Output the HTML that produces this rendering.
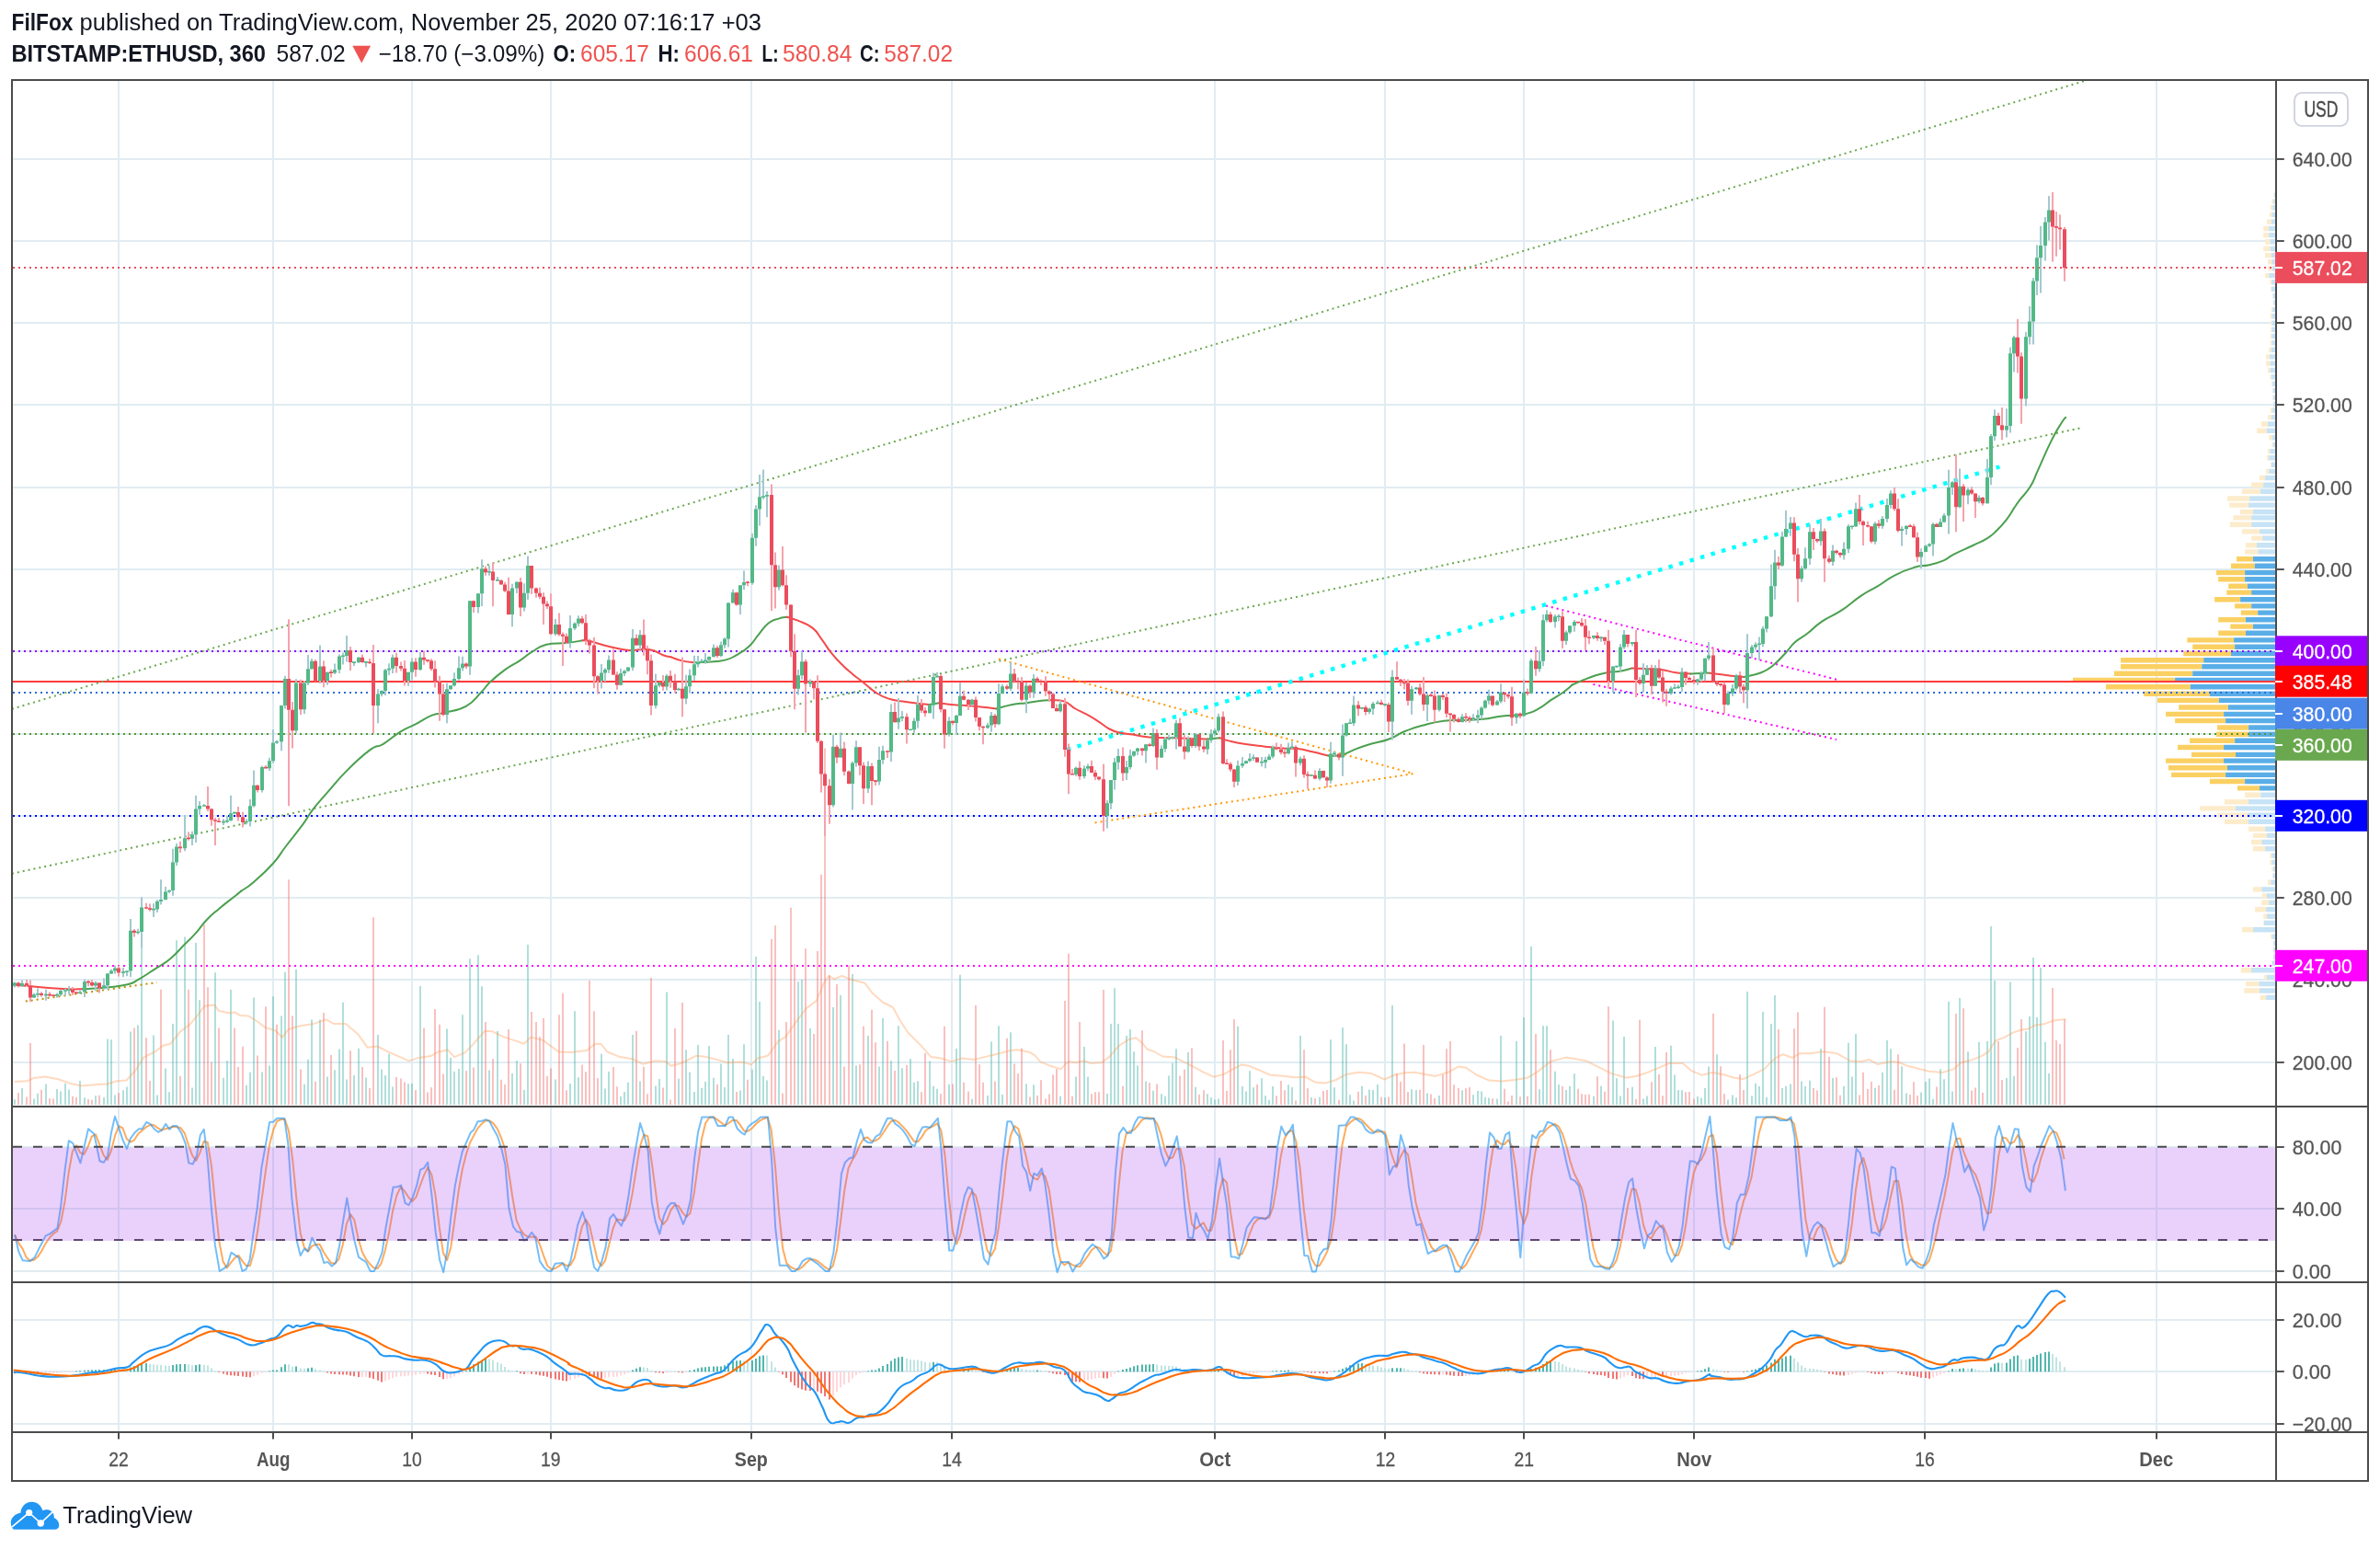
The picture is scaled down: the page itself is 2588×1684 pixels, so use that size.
<!DOCTYPE html><html><head><meta charset="utf-8"><style>html,body{margin:0;padding:0;background:#fff}svg{display:block}</style></head><body><svg width="2588" height="1684" viewBox="0 0 2588 1684" font-family="Liberation Sans, sans-serif">
<rect width="2588" height="1684" fill="#fff"/>
<g opacity="0.999">
<defs><clipPath id="cm"><rect x="13.0" y="87.0" width="2462.0" height="1116.0"/></clipPath><clipPath id="cs"><rect x="13.0" y="1203.0" width="2462.0" height="191.0"/></clipPath><clipPath id="cd"><rect x="13.0" y="1394.0" width="2462.0" height="163.0"/></clipPath></defs>
<path d="M129 87.0V1557.0M297 87.0V1557.0M448 87.0V1557.0M599 87.0V1557.0M817 87.0V1557.0M1035 87.0V1557.0M1321 87.0V1557.0M1506 87.0V1557.0M1657 87.0V1557.0M1842 87.0V1557.0M2093 87.0V1557.0M2345 87.0V1557.0M13.0 1155H2475.0M13.0 1065H2475.0M13.0 976H2475.0M13.0 887H2475.0M13.0 798H2475.0M13.0 708H2475.0M13.0 619H2475.0M13.0 530H2475.0M13.0 440H2475.0M13.0 351H2475.0M13.0 262H2475.0M13.0 173H2475.0M13.0 1247H2475.0M13.0 1314H2475.0M13.0 1382H2475.0M13.0 1435H2475.0M13.0 1491H2475.0M13.0 1548H2475.0" stroke="#e1ecf2" stroke-width="2" fill="none"/>
<g clip-path="url(#cm)">
<path d="M15 1195.2h2V1201h-2zM23 1183.1h2V1201h-2zM36 1194.6h2V1201h-2zM40 1188.8h2V1201h-2zM49 1178.6h2V1201h-2zM61 1183.9h2V1201h-2zM65 1186.5h2V1201h-2zM70 1177.8h2V1201h-2zM74 1184.4h2V1201h-2zM86 1174.9h2V1201h-2zM91 1193.3h2V1201h-2zM103 1191.2h2V1201h-2zM112 1193h2V1201h-2zM116 1129.5h2V1201h-2zM120 1130.3h2V1201h-2zM124 1190.6h2V1201h-2zM133 1185.2h2V1201h-2zM137 1181.4h2V1201h-2zM141 1121.6h2V1201h-2zM149 1114.5h2V1201h-2zM153 1017h2V1201h-2zM166 1125.6h2V1201h-2zM170 1190.6h2V1201h-2zM179 1161.6h2V1201h-2zM183 1187.2h2V1201h-2zM187 1112.9h2V1201h-2zM191 1022.3h2V1201h-2zM200 1018.4h2V1201h-2zM208 1182.5h2V1201h-2zM212 1025h2V1201h-2zM216 1087.2h2V1201h-2zM233 1057.3h2V1201h-2zM242 1171.7h2V1201h-2zM246 1153.3h2V1201h-2zM250 1075.9h2V1201h-2zM267 1179.7h2V1201h-2zM271 1165.7h2V1201h-2zM275 1084.5h2V1201h-2zM284 1165.5h2V1201h-2zM292 1158.5h2V1201h-2zM296 1083.2h2V1201h-2zM305 1104.4h2V1201h-2zM309 1056.7h2V1201h-2zM321 1054.1h2V1201h-2zM330 1178.7h2V1201h-2zM334 1151.7h2V1201h-2zM338 1108.4h2V1201h-2zM347 1108.4h2V1201h-2zM355 1170.5h2V1201h-2zM363 1163.3h2V1201h-2zM368 1140.4h2V1201h-2zM372 1089.8h2V1201h-2zM376 1173.5h2V1201h-2zM384 1168.9h2V1201h-2zM389 1139.8h2V1201h-2zM397 1171.4h2V1201h-2zM410 1125h2V1201h-2zM414 1162.5h2V1201h-2zM418 1169h2V1201h-2zM422 1145.5h2V1201h-2zM426 1181.4h2V1201h-2zM443 1178.3h2V1201h-2zM447 1178.1h2V1201h-2zM456 1072.1h2V1201h-2zM485 1118.6h2V1201h-2zM489 1150.1h2V1201h-2zM493 1164.7h2V1201h-2zM498 1162.1h2V1201h-2zM502 1103.3h2V1201h-2zM510 1042.3h2V1201h-2zM519 1038.2h2V1201h-2zM523 1072.3h2V1201h-2zM531 1163.6h2V1201h-2zM540 1121h2V1201h-2zM556 1167h2V1201h-2zM561 1153h2V1201h-2zM569 1184.9h2V1201h-2zM573 1027.1h2V1201h-2zM603 1173.5h2V1201h-2zM619 1178h2V1201h-2zM624 1099.2h2V1201h-2zM628 1171.2h2V1201h-2zM653 1145.8h2V1201h-2zM657 1183.4h2V1201h-2zM661 1165h2V1201h-2zM674 1192h2V1201h-2zM678 1187.1h2V1201h-2zM682 1176.7h2V1201h-2zM687 1125h2V1201h-2zM695 1175.5h2V1201h-2zM712 1180.6h2V1201h-2zM716 1172.9h2V1201h-2zM724 1078.4h2V1201h-2zM737 1172.7h2V1201h-2zM745 1141.3h2V1201h-2zM749 1165.8h2V1201h-2zM754 1187h2V1201h-2zM758 1136h2V1201h-2zM762 1182.7h2V1201h-2zM766 1176.1h2V1201h-2zM770 1137.1h2V1201h-2zM775 1171.8h2V1201h-2zM783 1156.5h2V1201h-2zM787 1181.9h2V1201h-2zM791 1125h2V1201h-2zM796 1151.1h2V1201h-2zM804 1185.4h2V1201h-2zM808 1135.2h2V1201h-2zM817 1162.4h2V1201h-2zM821 1040.1h2V1201h-2zM825 1088.9h2V1201h-2zM829 1170.1h2V1201h-2zM833 1174.6h2V1201h-2zM846 1120h2V1201h-2zM867 1067.3h2V1201h-2zM871 1065.1h2V1201h-2zM880 1118h2V1201h-2zM905 1095h2V1201h-2zM913 1082h2V1201h-2zM926 1059h2V1201h-2zM930 1158.6h2V1201h-2zM943 1126.1h2V1201h-2zM955 1159.5h2V1201h-2zM959 1106.9h2V1201h-2zM968 1153.3h2V1201h-2zM976 1115.2h2V1201h-2zM980 1161.3h2V1201h-2zM989 1151.1h2V1201h-2zM993 1176.8h2V1201h-2zM997 1175.3h2V1201h-2zM1010 1153.4h2V1201h-2zM1014 1180.8h2V1201h-2zM1018 1183.8h2V1201h-2zM1031 1178.7h2V1201h-2zM1039 1140.1h2V1201h-2zM1043 1059.8h2V1201h-2zM1056 1194.8h2V1201h-2zM1073 1190.9h2V1201h-2zM1077 1132.4h2V1201h-2zM1085 1115.2h2V1201h-2zM1089 1190.1h2V1201h-2zM1098 1122.2h2V1201h-2zM1115 1178.3h2V1201h-2zM1123 1179.2h2V1201h-2zM1152 1191.8h2V1201h-2zM1169 1170.6h2V1201h-2zM1178 1138h2V1201h-2zM1182 1170.7h2V1201h-2zM1203 1189.1h2V1201h-2zM1207 1113h2V1201h-2zM1211 1074.2h2V1201h-2zM1215 1113h2V1201h-2zM1224 1126.1h2V1201h-2zM1228 1119.1h2V1201h-2zM1232 1143.2h2V1201h-2zM1236 1158.2h2V1201h-2zM1245 1175.4h2V1201h-2zM1253 1185.8h2V1201h-2zM1262 1189.2h2V1201h-2zM1266 1191.8h2V1201h-2zM1270 1169.5h2V1201h-2zM1274 1155.7h2V1201h-2zM1278 1140.2h2V1201h-2zM1291 1144.1h2V1201h-2zM1299 1181.7h2V1201h-2zM1312 1189.2h2V1201h-2zM1316 1193.3h2V1201h-2zM1320 1195.4h2V1201h-2zM1324 1194.5h2V1201h-2zM1345 1115.8h2V1201h-2zM1350 1180.9h2V1201h-2zM1354 1186.6h2V1201h-2zM1358 1164.3h2V1201h-2zM1362 1182.2h2V1201h-2zM1371 1172.2h2V1201h-2zM1375 1191.2h2V1201h-2zM1379 1195.8h2V1201h-2zM1383 1180.9h2V1201h-2zM1400 1179.3h2V1201h-2zM1404 1182.1h2V1201h-2zM1413 1126.1h2V1201h-2zM1425 1192.9h2V1201h-2zM1434 1192.8h2V1201h-2zM1446 1130.2h2V1201h-2zM1450 1182.2h2V1201h-2zM1459 1117.2h2V1201h-2zM1463 1135.2h2V1201h-2zM1467 1190.3h2V1201h-2zM1471 1196.5h2V1201h-2zM1480 1180.8h2V1201h-2zM1488 1184.5h2V1201h-2zM1492 1185.1h2V1201h-2zM1497 1179h2V1201h-2zM1505 1193.2h2V1201h-2zM1513 1093.1h2V1201h-2zM1534 1184.2h2V1201h-2zM1539 1185.1h2V1201h-2zM1551 1188.4h2V1201h-2zM1564 1191h2V1201h-2zM1589 1185.3h2V1201h-2zM1601 1190.3h2V1201h-2zM1606 1186h2V1201h-2zM1610 1186.5h2V1201h-2zM1614 1192.7h2V1201h-2zM1618 1193.4h2V1201h-2zM1627 1194.5h2V1201h-2zM1631 1126.1h2V1201h-2zM1648 1131.9h2V1201h-2zM1656 1106.1h2V1201h-2zM1664 1029h2V1201h-2zM1673 1184.2h2V1201h-2zM1677 1115.2h2V1201h-2zM1681 1115.2h2V1201h-2zM1690 1164.8h2V1201h-2zM1694 1179.1h2V1201h-2zM1702 1184.9h2V1201h-2zM1706 1180.7h2V1201h-2zM1711 1167.3h2V1201h-2zM1732 1191.7h2V1201h-2zM1740 1180.8h2V1201h-2zM1753 1109.4h2V1201h-2zM1757 1172.3h2V1201h-2zM1761 1191.4h2V1201h-2zM1765 1126.9h2V1201h-2zM1774 1181.7h2V1201h-2zM1786 1194.4h2V1201h-2zM1790 1191.6h2V1201h-2zM1799 1137.9h2V1201h-2zM1816 1136.8h2V1201h-2zM1820 1168.4h2V1201h-2zM1824 1185.1h2V1201h-2zM1828 1185.2h2V1201h-2zM1845 1192.1h2V1201h-2zM1849 1193.5h2V1201h-2zM1853 1182.9h2V1201h-2zM1857 1159.5h2V1201h-2zM1866 1146.2h2V1201h-2zM1878 1195.4h2V1201h-2zM1883 1190.6h2V1201h-2zM1887 1193.2h2V1201h-2zM1899 1077.9h2V1201h-2zM1904 1191.5h2V1201h-2zM1908 1177.8h2V1201h-2zM1912 1180.9h2V1201h-2zM1916 1100h2V1201h-2zM1920 1193.1h2V1201h-2zM1925 1112.9h2V1201h-2zM1929 1082.1h2V1201h-2zM1937 1183.1h2V1201h-2zM1941 1180.7h2V1201h-2zM1946 1178.6h2V1201h-2zM1958 1175.6h2V1201h-2zM1962 1180.9h2V1201h-2zM1967 1174.8h2V1201h-2zM1979 1140.3h2V1201h-2zM1992 1172.1h2V1201h-2zM2004 1180.8h2V1201h-2zM2009 1133.8h2V1201h-2zM2013 1170.5h2V1201h-2zM2017 1124.1h2V1201h-2zM2038 1182.8h2V1201h-2zM2046 1165.9h2V1201h-2zM2051 1130.9h2V1201h-2zM2055 1140.3h2V1201h-2zM2067 1159.2h2V1201h-2zM2072 1188.6h2V1201h-2zM2088 1187.4h2V1201h-2zM2093 1175.9h2V1201h-2zM2097 1172.6h2V1201h-2zM2101 1194.7h2V1201h-2zM2109 1162.3h2V1201h-2zM2113 1173.2h2V1201h-2zM2118 1088.8h2V1201h-2zM2122 1186.5h2V1201h-2zM2130 1085h2V1201h-2zM2139 1143.2h2V1201h-2zM2151 1132.9h2V1201h-2zM2160 1132.1h2V1201h-2zM2164 1007.1h2V1201h-2zM2168 1065.9h2V1201h-2zM2181 1172.1h2V1201h-2zM2185 1067.6h2V1201h-2zM2189 1169.7h2V1201h-2zM2202 1121.2h2V1201h-2zM2206 1105h2V1201h-2zM2210 1040.9h2V1201h-2zM2214 1105.9h2V1201h-2zM2218 1052.1h2V1201h-2zM2223 1132.9h2V1201h-2zM2227 1166.9h2V1201h-2z" fill="#26a69a" fill-opacity="0.36"/>
<path d="M19 1187.9h2V1201h-2zM28 1192.5h2V1201h-2zM32 1134h2V1201h-2zM44 1184.7h2V1201h-2zM53 1194.1h2V1201h-2zM57 1194.6h2V1201h-2zM78 1191.8h2V1201h-2zM82 1192.9h2V1201h-2zM95 1194.9h2V1201h-2zM99 1195.8h2V1201h-2zM107 1190.8h2V1201h-2zM128 1188.3h2V1201h-2zM145 1117.6h2V1201h-2zM158 1128.2h2V1201h-2zM162 1174.9h2V1201h-2zM174 1075.8h2V1201h-2zM195 1169.7h2V1201h-2zM204 1075.8h2V1201h-2zM221 1005.1h2V1201h-2zM225 1073.2h2V1201h-2zM229 1154.7h2V1201h-2zM237 1117.6h2V1201h-2zM254 1117.6h2V1201h-2zM258 1160.1h2V1201h-2zM263 1137.8h2V1201h-2zM279 1147.4h2V1201h-2zM288 1094.3h2V1201h-2zM300 1113.7h2V1201h-2zM313 956.2h2V1201h-2zM317 1104.4h2V1201h-2zM326 1162.4h2V1201h-2zM342 1175.7h2V1201h-2zM351 1101.1h2V1201h-2zM359 1147.1h2V1201h-2zM380 1142.2h2V1201h-2zM393 1159.9h2V1201h-2zM401 1182.9h2V1201h-2zM405 997.2h2V1201h-2zM430 1170.9h2V1201h-2zM435 1172.6h2V1201h-2zM439 1176.5h2V1201h-2zM451 1185.1h2V1201h-2zM460 1117.6h2V1201h-2zM464 1187.5h2V1201h-2zM468 1182.3h2V1201h-2zM472 1097h2V1201h-2zM477 1113.7h2V1201h-2zM481 1167.4h2V1201h-2zM506 1164.3h2V1201h-2zM514 1160.5h2V1201h-2zM527 1111.1h2V1201h-2zM535 1151.2h2V1201h-2zM544 1173.8h2V1201h-2zM548 1178.9h2V1201h-2zM552 1119.1h2V1201h-2zM565 1156.2h2V1201h-2zM577 1100h2V1201h-2zM582 1110.9h2V1201h-2zM586 1127.2h2V1201h-2zM590 1106.9h2V1201h-2zM594 1169.9h2V1201h-2zM598 1161.5h2V1201h-2zM607 1103.3h2V1201h-2zM611 1079.8h2V1201h-2zM615 1185.3h2V1201h-2zM632 1157.5h2V1201h-2zM636 1165.2h2V1201h-2zM640 1065.9h2V1201h-2zM645 1099.2h2V1201h-2zM649 1171.9h2V1201h-2zM666 1160h2V1201h-2zM670 1181.3h2V1201h-2zM691 1120.8h2V1201h-2zM699 1159.8h2V1201h-2zM703 1189.2h2V1201h-2zM707 1063.1h2V1201h-2zM720 1182.4h2V1201h-2zM728 1195.5h2V1201h-2zM733 1118h2V1201h-2zM741 1090h2V1201h-2zM779 1178.8h2V1201h-2zM800 1187h2V1201h-2zM812 1173.7h2V1201h-2zM838 1021h2V1201h-2zM842 1006.3h2V1201h-2zM850 1188.6h2V1201h-2zM854 1111.1h2V1201h-2zM859 986.8h2V1201h-2zM863 1047.9h2V1201h-2zM875 1031.2h2V1201h-2zM884 1124.1h2V1201h-2zM888 1034h2V1201h-2zM892 950.8h2V1201h-2zM896 813.5h2V1201h-2zM901 1060.3h2V1201h-2zM909 1070h2V1201h-2zM917 1159.4h2V1201h-2zM922 1049.2h2V1201h-2zM934 1157.3h2V1201h-2zM938 1115.8h2V1201h-2zM947 1097.8h2V1201h-2zM951 1133.2h2V1201h-2zM964 1131.8h2V1201h-2zM972 1164h2V1201h-2zM985 1158h2V1201h-2zM1001 1187.3h2V1201h-2zM1005 1145.1h2V1201h-2zM1022 1189.3h2V1201h-2zM1026 1115.8h2V1201h-2zM1035 1178.6h2V1201h-2zM1047 1176.7h2V1201h-2zM1052 1186.6h2V1201h-2zM1060 1093.1h2V1201h-2zM1064 1157.3h2V1201h-2zM1068 1176.8h2V1201h-2zM1081 1175.4h2V1201h-2zM1094 1128.7h2V1201h-2zM1102 1156.6h2V1201h-2zM1106 1167.1h2V1201h-2zM1110 1139.4h2V1201h-2zM1119 1192.6h2V1201h-2zM1127 1191.1h2V1201h-2zM1131 1174.3h2V1201h-2zM1136 1194.5h2V1201h-2zM1140 1189.4h2V1201h-2zM1144 1168.5h2V1201h-2zM1148 1162.2h2V1201h-2zM1157 1088.1h2V1201h-2zM1161 1036.8h2V1201h-2zM1165 1191.8h2V1201h-2zM1173 1111.1h2V1201h-2zM1186 1189.3h2V1201h-2zM1190 1187.3h2V1201h-2zM1194 1187.2h2V1201h-2zM1199 1076.1h2V1201h-2zM1220 1180.8h2V1201h-2zM1241 1120.2h2V1201h-2zM1249 1177.2h2V1201h-2zM1257 1178.6h2V1201h-2zM1282 1169.5h2V1201h-2zM1287 1162.5h2V1201h-2zM1295 1139.4h2V1201h-2zM1303 1189.8h2V1201h-2zM1308 1185.3h2V1201h-2zM1329 1131.1h2V1201h-2zM1333 1186.1h2V1201h-2zM1337 1141.3h2V1201h-2zM1341 1108h2V1201h-2zM1366 1179h2V1201h-2zM1387 1191.3h2V1201h-2zM1392 1175.1h2V1201h-2zM1396 1185.2h2V1201h-2zM1408 1196.5h2V1201h-2zM1417 1141.3h2V1201h-2zM1421 1183.3h2V1201h-2zM1429 1193.9h2V1201h-2zM1438 1186.1h2V1201h-2zM1442 1185h2V1201h-2zM1455 1195.7h2V1201h-2zM1476 1186.7h2V1201h-2zM1484 1190.9h2V1201h-2zM1501 1192.7h2V1201h-2zM1509 1192.4h2V1201h-2zM1518 1167.2h2V1201h-2zM1522 1176.1h2V1201h-2zM1526 1134.4h2V1201h-2zM1530 1187h2V1201h-2zM1543 1184.8h2V1201h-2zM1547 1136h2V1201h-2zM1555 1189.5h2V1201h-2zM1559 1193.9h2V1201h-2zM1568 1168.3h2V1201h-2zM1572 1140.2h2V1201h-2zM1576 1131.9h2V1201h-2zM1580 1179.2h2V1201h-2zM1585 1182.8h2V1201h-2zM1593 1183.2h2V1201h-2zM1597 1181.9h2V1201h-2zM1622 1194.2h2V1201h-2zM1635 1183.7h2V1201h-2zM1639 1197.5h2V1201h-2zM1643 1191h2V1201h-2zM1652 1192.2h2V1201h-2zM1660 1191.8h2V1201h-2zM1669 1124.1h2V1201h-2zM1685 1141.3h2V1201h-2zM1698 1180.9h2V1201h-2zM1715 1183.7h2V1201h-2zM1719 1189.3h2V1201h-2zM1723 1190.1h2V1201h-2zM1727 1189.7h2V1201h-2zM1736 1170.2h2V1201h-2zM1744 1186.8h2V1201h-2zM1748 1094.2h2V1201h-2zM1769 1182.7h2V1201h-2zM1778 1194.9h2V1201h-2zM1782 1108.8h2V1201h-2zM1795 1176.3h2V1201h-2zM1803 1168.1h2V1201h-2zM1807 1191.3h2V1201h-2zM1811 1144.1h2V1201h-2zM1832 1187.3h2V1201h-2zM1836 1187.1h2V1201h-2zM1841 1194.8h2V1201h-2zM1862 1102.1h2V1201h-2zM1870 1159.3h2V1201h-2zM1874 1189.3h2V1201h-2zM1891 1168.1h2V1201h-2zM1895 1185h2V1201h-2zM1933 1119.1h2V1201h-2zM1950 1118.2h2V1201h-2zM1954 1100.6h2V1201h-2zM1971 1183.1h2V1201h-2zM1975 1185.5h2V1201h-2zM1983 1094.7h2V1201h-2zM1988 1149h2V1201h-2zM1996 1171.3h2V1201h-2zM2000 1190.7h2V1201h-2zM2021 1190.5h2V1201h-2zM2025 1165.9h2V1201h-2zM2030 1184h2V1201h-2zM2034 1176h2V1201h-2zM2042 1179.9h2V1201h-2zM2059 1184.7h2V1201h-2zM2063 1146.2h2V1201h-2zM2076 1189.9h2V1201h-2zM2080 1176.3h2V1201h-2zM2084 1191.1h2V1201h-2zM2105 1181.4h2V1201h-2zM2126 1102.1h2V1201h-2zM2134 1096.2h2V1201h-2zM2143 1185.6h2V1201h-2zM2147 1182.4h2V1201h-2zM2155 1188h2V1201h-2zM2172 1132.1h2V1201h-2zM2176 1173.9h2V1201h-2zM2193 1139.1h2V1201h-2zM2197 1107.9h2V1201h-2zM2231 1074.1h2V1201h-2zM2235 1130.9h2V1201h-2zM2239 1135h2V1201h-2zM2244 1107.9h2V1201h-2z" fill="#ef5350" fill-opacity="0.36"/>
<polyline points="15.9,1175.9 29.1,1175.3 37.1,1171.9 49,1170.6 63.5,1173.2 76.8,1178 88.7,1180.4 105.9,1179 116.5,1178.5 127.1,1175.3 137.6,1174.5 148.2,1162.6 156.2,1149.4 169.4,1142.8 177.3,1136.7 185.3,1134.8 195.9,1121.6 206.5,1113.7 214.4,1104.4 222.3,1093.8 232.9,1092.5 238.2,1099.1 248.8,1101.2 255.4,1100.4 260.7,1103.9 270,1104.4 280.6,1111 288.5,1117.1 299.1,1120.3 307,1127.7 313.7,1119 325.6,1115.5 341.5,1112.9 354.7,1108.4 362.6,1112.9 375.9,1113.1 389.1,1124.2 399.7,1138.8 410.3,1137.5 423.5,1144.1 444.7,1153.4 455.3,1149.9 468.5,1148.1 476.4,1143.6 480,1143 486.9,1141.3 493.9,1149.1 505,1144.9 513.3,1136.6 527.1,1120.8 535.5,1121.3 546.6,1126.9 563.2,1132.4 570.1,1134.7 577.1,1127.4 590.9,1131.1 599.2,1137.4 607.6,1143.5 621.4,1144.1 638.1,1142.1 646.4,1135.2 653.3,1134.7 660.3,1143.5 674.1,1149.1 688,1151.3 699.1,1156.8 712.9,1153.2 724,1154.1 729.6,1158.8 740.7,1156 757.3,1147.7 768.4,1149.1 779.5,1151.9 790.6,1155.2 807.2,1154.6 816.9,1157.4 823.9,1150.5 835,1147.7 846.1,1132.4 854.4,1126.9 868.2,1107.5 876.6,1096.4 887.7,1088.1 896,1068.7 901.5,1060.9 907.1,1064.5 915.4,1060.9 926.5,1065.3 940.3,1068.7 948.7,1079.8 959.8,1089.5 970.8,1095 979.2,1110.3 987.5,1122.7 1001.4,1136.6 1012.4,1149.1 1023.5,1150.5 1034.6,1154.1 1045.7,1150.5 1059.6,1151.9 1070.7,1149.1 1084.5,1145.8 1098.4,1142.1 1106.7,1141.3 1117.8,1143.5 1120,1144.1 1125.5,1147.7 1131.1,1154.1 1142.2,1158.8 1153.3,1162.4 1161.6,1154.1 1169.9,1155.2 1178.2,1153.2 1186.6,1156 1197.6,1155.2 1206,1149.1 1217.1,1136.6 1228.2,1129.7 1235.1,1128.3 1242,1133.8 1247.6,1140.8 1254.5,1143 1264.2,1148.5 1278.1,1149.6 1286.4,1154.1 1297.5,1159.6 1308.6,1165.7 1319.7,1170.7 1330.8,1167.9 1341.9,1161.6 1350.2,1157.4 1358.5,1158.8 1369.6,1163.5 1380.7,1168.5 1397.3,1169.9 1408.4,1171.3 1419.5,1170.7 1430.6,1176.8 1441.7,1177.4 1452.8,1174 1463.9,1167.9 1477.7,1165.7 1491.6,1167.1 1505.5,1173.5 1516.6,1168.5 1527.7,1166.3 1538.7,1165.7 1549.8,1167.9 1560.9,1169.9 1574.8,1165.7 1585.9,1159.6 1594.2,1160.7 1605.3,1168.5 1619.2,1174.6 1633,1175.4 1646.9,1174 1660.8,1171.8 1671.9,1165.2 1685.7,1154.1 1702.4,1149.6 1713.5,1151.3 1724.5,1153.2 1738.4,1160.2 1752.3,1167.1 1768.9,1171.8 1780,1169.7 1791.8,1165.9 1803.5,1160.9 1815.3,1155.9 1830,1155.9 1838.8,1163.8 1850.6,1168.8 1862.4,1165.9 1874.1,1168.2 1885.9,1171.8 1896.2,1172.9 1906.5,1168.2 1918.2,1162.4 1930,1150.6 1938.8,1146.2 1949.1,1150 1956.5,1145.3 1968.2,1145.3 1982.9,1143.2 1997.6,1145.3 2012.4,1153.5 2024.1,1154.1 2032.9,1152.1 2041.8,1157.1 2056.5,1154.1 2065.3,1155 2074.1,1158.8 2085.9,1161.8 2097.6,1164.7 2112.4,1165.9 2124.1,1162.4 2132.9,1155 2144.7,1152.1 2156.5,1147.1 2162.4,1143.2 2169.7,1131.5 2180,1127.6 2188.8,1122.6 2197.6,1119.7 2206.5,1118.2 2212.4,1114.7 2224.1,1112.9 2232.9,1109.4 2246.2,1107.9" fill="none" stroke="#ff9850" stroke-opacity="0.36" stroke-width="2" stroke-linejoin="round"/>
<path d="M2472.7 209.2H2473.1v5.4H2472.7zM2470.3 216.4H2471.9v5.4H2470.3zM2468.8 223.1H2471.2v5.4H2468.8zM2467.9 230.7H2470.7v5.4H2467.9zM2464.8 238.4H2469.8v5.4H2464.8zM2461.2 245.8H2467.2v5.4H2461.2zM2461.2 252.9H2467.2v5.4H2461.2zM2463.1 260.1H2468.4v5.4H2463.1zM2461.2 267.7H2468.4v5.4H2461.2zM2463.1 274.9H2469.8v5.4H2463.1zM2466 282.1H2470.3v5.4H2466zM2466.4 289.2H2470.7v5.4H2466.4zM2463.1 296.9H2467.2v5.4H2463.1zM2468.4 304H2470.3v5.4H2468.4zM2469.3 311.4H2469.8v5.4H2469.3zM2471.2 319.1H2471.7v5.4H2471.2zM2471.9 326.3H2472.2v5.4H2471.9zM2469.8 333.9H2471.2v5.4H2469.8zM2468.8 341.1H2470.7v5.4H2468.8zM2469.3 348.5H2470.7v5.4H2469.3zM2469.3 355.6H2470.3v5.4H2469.3zM2468.8 362.8H2470.3v5.4H2468.8zM2468.8 370H2470.7v5.4H2468.8zM2467.2 377.6H2469.8v5.4H2467.2zM2464.1 385.2H2467.9v5.4H2464.1zM2464.1 392.4H2468.4v5.4H2464.1zM2466 399.8H2468.8v5.4H2466zM2468.4 407H2469.8v5.4H2468.4zM2470.3 414.6H2471.2v5.4H2470.3zM2471.2 421.8H2471.7v5.4H2471.2zM2471.2 429.4H2471.9v5.4H2471.2zM2471.9 436.8H2472.2v5.4H2471.9zM2469.1 443.3H2471.2v5.4H2469.1zM2466 450.9H2469.8v5.4H2466zM2458.8 458.3H2466v5.4H2458.8zM2454 465.5H2465v5.4H2454zM2467.2 473.1H2470.7v5.4H2467.2zM2470.3 480.8H2471.7v5.4H2470.3zM2466 487.9H2468.4v5.4H2466zM2465 495.1H2467.2v5.4H2465zM2469.1 502.5H2469.8v5.4H2469.1zM2464.1 509.7H2467.2v5.4H2464.1zM2456.9 516.8H2463.1v5.4H2456.9zM2448.1 524.5H2461.2v5.4H2448.1zM2438 531.6H2457.9v5.4H2438zM2422 539.3H2446.1v5.4H2422zM2424.2 546.4H2445v5.4H2424.2zM2436.1 553.8H2450v5.4H2436.1zM2428.4 560.2H2448.2v5.4H2428.4zM2424.8 567.6H2448.2v5.4H2424.8zM2438 575.2H2457.1v5.4H2438zM2448.2 582.4H2460.2v5.4H2448.2zM2442 590H2454v5.4H2442zM2441.1 597.2H2455.4v5.4H2441.1zM2441.1 861.6H2458.3v5.4H2441.1zM2418.9 869.1H2445.1v5.4H2418.9zM2392.1 876.2H2431v5.4H2392.1zM2411 883.4H2443.9v5.4H2411zM2418.9 890.6H2445.1v5.4H2418.9zM2445 898.5H2463.1v5.4H2445zM2450 905.7H2465v5.4H2450zM2448.1 912.8H2459.3v5.4H2448.1zM2450 920H2463.1v5.4H2450zM2468.4 927.6H2470.3v5.4H2468.4zM2468.4 934.8H2470.3v5.4H2468.4zM2470.3 942H2471.9v5.4H2470.3zM2471.2 949.4H2471.5v5.4H2471.2zM2466 956.5H2469.3v5.4H2466zM2450 964.2H2459.3v5.4H2450zM2460 971.3H2465v5.4H2460zM2459.3 978.5H2467.2v5.4H2459.3zM2452.1 986.1H2464.1v5.4H2452.1zM2461.2 993.5H2465v5.4H2461.2zM2461.2 1000.7H2461.9v5.4H2461.2zM2438 1008.1H2450v5.4H2438zM2469.1 1015.5H2470.7v5.4H2469.1zM2471.9 1022.7H2472.2v5.4H2471.9zM2471.9 1029.8H2472.2v5.4H2471.9zM2471.9 1037.5H2472.2v5.4H2471.9zM2470.3 1044.6H2470.7v5.4H2470.3zM2436.8 1052H2448.1v5.4H2436.8zM2461.9 1059.7H2465v5.4H2461.9zM2442.1 1066.9H2456.4v5.4H2442.1zM2440.2 1074.3H2457.1v5.4H2440.2zM2457.9 1081.7H2464.1v5.4H2457.9z" fill="#fdeccb"/><path d="M2473.1 209.2H2474.0v5.4H2473.1zM2471.9 216.4H2474.0v5.4H2471.9zM2471.2 223.1H2474.0v5.4H2471.2zM2470.7 230.7H2474.0v5.4H2470.7zM2469.8 238.4H2474.0v5.4H2469.8zM2467.2 245.8H2474.0v5.4H2467.2zM2467.2 252.9H2474.0v5.4H2467.2zM2468.4 260.1H2474.0v5.4H2468.4zM2468.4 267.7H2474.0v5.4H2468.4zM2469.8 274.9H2474.0v5.4H2469.8zM2470.3 282.1H2474.0v5.4H2470.3zM2470.7 289.2H2474.0v5.4H2470.7zM2467.2 296.9H2474.0v5.4H2467.2zM2470.3 304H2474.0v5.4H2470.3zM2469.8 311.4H2474.0v5.4H2469.8zM2471.7 319.1H2474.0v5.4H2471.7zM2472.2 326.3H2474.0v5.4H2472.2zM2471.2 333.9H2474.0v5.4H2471.2zM2470.7 341.1H2474.0v5.4H2470.7zM2470.7 348.5H2474.0v5.4H2470.7zM2470.3 355.6H2474.0v5.4H2470.3zM2470.3 362.8H2474.0v5.4H2470.3zM2470.7 370H2474.0v5.4H2470.7zM2469.8 377.6H2474.0v5.4H2469.8zM2467.9 385.2H2474.0v5.4H2467.9zM2468.4 392.4H2474.0v5.4H2468.4zM2468.8 399.8H2474.0v5.4H2468.8zM2469.8 407H2474.0v5.4H2469.8zM2471.2 414.6H2474.0v5.4H2471.2zM2471.7 421.8H2474.0v5.4H2471.7zM2471.9 429.4H2474.0v5.4H2471.9zM2472.2 436.8H2474.0v5.4H2472.2zM2471.2 443.3H2474.0v5.4H2471.2zM2469.8 450.9H2474.0v5.4H2469.8zM2466 458.3H2474.0v5.4H2466zM2465 465.5H2474.0v5.4H2465zM2470.7 473.1H2474.0v5.4H2470.7zM2471.7 480.8H2474.0v5.4H2471.7zM2468.4 487.9H2474.0v5.4H2468.4zM2467.2 495.1H2474.0v5.4H2467.2zM2469.8 502.5H2474.0v5.4H2469.8zM2467.2 509.7H2474.0v5.4H2467.2zM2463.1 516.8H2474.0v5.4H2463.1zM2461.2 524.5H2474.0v5.4H2461.2zM2457.9 531.6H2474.0v5.4H2457.9zM2446.1 539.3H2474.0v5.4H2446.1zM2445 546.4H2474.0v5.4H2445zM2450 553.8H2474.0v5.4H2450zM2448.2 560.2H2474.0v5.4H2448.2zM2448.2 567.6H2474.0v5.4H2448.2zM2457.1 575.2H2474.0v5.4H2457.1zM2460.2 582.4H2474.0v5.4H2460.2zM2454 590H2474.0v5.4H2454zM2455.4 597.2H2474.0v5.4H2455.4zM2458.3 861.6H2474.0v5.4H2458.3zM2445.1 869.1H2474.0v5.4H2445.1zM2431 876.2H2474.0v5.4H2431zM2443.9 883.4H2474.0v5.4H2443.9zM2445.1 890.6H2474.0v5.4H2445.1zM2463.1 898.5H2474.0v5.4H2463.1zM2465 905.7H2474.0v5.4H2465zM2459.3 912.8H2474.0v5.4H2459.3zM2463.1 920H2474.0v5.4H2463.1zM2470.3 927.6H2474.0v5.4H2470.3zM2470.3 934.8H2474.0v5.4H2470.3zM2471.9 942H2474.0v5.4H2471.9zM2471.5 949.4H2474.0v5.4H2471.5zM2469.3 956.5H2474.0v5.4H2469.3zM2459.3 964.2H2474.0v5.4H2459.3zM2465 971.3H2474.0v5.4H2465zM2467.2 978.5H2474.0v5.4H2467.2zM2464.1 986.1H2474.0v5.4H2464.1zM2465 993.5H2474.0v5.4H2465zM2461.9 1000.7H2474.0v5.4H2461.9zM2450 1008.1H2474.0v5.4H2450zM2470.7 1015.5H2474.0v5.4H2470.7zM2472.2 1022.7H2474.0v5.4H2472.2zM2472.2 1029.8H2474.0v5.4H2472.2zM2472.2 1037.5H2474.0v5.4H2472.2zM2470.7 1044.6H2474.0v5.4H2470.7zM2448.1 1052H2474.0v5.4H2448.1zM2465 1059.7H2474.0v5.4H2465zM2456.4 1066.9H2474.0v5.4H2456.4zM2457.1 1074.3H2474.0v5.4H2457.1zM2464.1 1081.7H2474.0v5.4H2464.1z" fill="#c7e3f6"/>
<path d="M2432 605.1H2449.9v5.4H2432zM2426 612.5H2451.8v5.4H2426zM2410 619.9H2441.1v5.4H2410zM2412.2 627.1H2441.1v5.4H2412.2zM2423.2 634.5H2443.9v5.4H2423.2zM2421.3 641.4H2448.2v5.4H2421.3zM2408.1 649H2436.1v5.4H2408.1zM2430.1 656.2H2448.2v5.4H2430.1zM2436.8 663.4H2455.2v5.4H2436.8zM2412.2 671H2442v5.4H2412.2zM2425.3 678.4H2449.9v5.4H2425.3zM2412.2 685.6H2442v5.4H2412.2zM2378.3 693.2H2429.1v5.4H2378.3zM2384.2 700.6H2430.1v5.4H2384.2zM2374.2 707.8H2426v5.4H2374.2zM2306.1 715H2396.2v5.4H2306.1zM2306.1 722.1H2394.3v5.4H2306.1zM2298.9 729.5H2384.2v5.4H2298.9zM2254 736.7H2365.1v5.4H2254zM2289.9 744.1H2381.8v5.4H2289.9zM2331.2 751.5H2402.9v5.4H2331.2zM2346 758.7H2412.9v5.4H2346zM2369.2 766.3H2422.9v5.4H2369.2zM2355.1 773.7H2418.1v5.4H2355.1zM2365.1 780.9H2420.1v5.4H2365.1zM2411 788.3H2445.1v5.4H2411zM2410 795.5H2445.1v5.4H2410zM2381.1 802.6H2430.1v5.4H2381.1zM2368 809.8H2418.1v5.4H2368zM2383 817.7H2431v5.4H2383zM2355.1 824.4H2418.1v5.4H2355.1zM2357.9 832H2422v5.4H2357.9zM2361.1 839.7H2420.1v5.4H2361.1zM2402.9 846.8H2441.1v5.4H2402.9zM2433 854.2H2457.1v5.4H2433z" fill="#fbd063"/><path d="M2449.9 605.1H2474.0v5.4H2449.9zM2451.8 612.5H2474.0v5.4H2451.8zM2441.1 619.9H2474.0v5.4H2441.1zM2441.1 627.1H2474.0v5.4H2441.1zM2443.9 634.5H2474.0v5.4H2443.9zM2448.2 641.4H2474.0v5.4H2448.2zM2436.1 649H2474.0v5.4H2436.1zM2448.2 656.2H2474.0v5.4H2448.2zM2455.2 663.4H2474.0v5.4H2455.2zM2442 671H2474.0v5.4H2442zM2449.9 678.4H2474.0v5.4H2449.9zM2442 685.6H2474.0v5.4H2442zM2429.1 693.2H2474.0v5.4H2429.1zM2430.1 700.6H2474.0v5.4H2430.1zM2426 707.8H2474.0v5.4H2426zM2396.2 715H2474.0v5.4H2396.2zM2394.3 722.1H2474.0v5.4H2394.3zM2384.2 729.5H2474.0v5.4H2384.2zM2365.1 736.7H2474.0v5.4H2365.1zM2381.8 744.1H2474.0v5.4H2381.8zM2402.9 751.5H2474.0v5.4H2402.9zM2412.9 758.7H2474.0v5.4H2412.9zM2422.9 766.3H2474.0v5.4H2422.9zM2418.1 773.7H2474.0v5.4H2418.1zM2420.1 780.9H2474.0v5.4H2420.1zM2445.1 788.3H2474.0v5.4H2445.1zM2445.1 795.5H2474.0v5.4H2445.1zM2430.1 802.6H2474.0v5.4H2430.1zM2418.1 809.8H2474.0v5.4H2418.1zM2431 817.7H2474.0v5.4H2431zM2418.1 824.4H2474.0v5.4H2418.1zM2422 832H2474.0v5.4H2422zM2420.1 839.7H2474.0v5.4H2420.1zM2441.1 846.8H2474.0v5.4H2441.1zM2457.1 854.2H2474.0v5.4H2457.1z" fill="#5aaee8"/>
<path d="M14.0 708H2475.0" stroke="#8c00ff" stroke-width="2" stroke-dasharray="2 4" fill="none"/>
<path d="M14.0 753H2475.0" stroke="#2a6de0" stroke-width="2" stroke-dasharray="2 4" fill="none"/>
<path d="M14.0 798H2475.0" stroke="#4e9a2e" stroke-width="2" stroke-dasharray="2 4" fill="none"/>
<path d="M14.0 887H2475.0" stroke="#0000ff" stroke-width="2" stroke-dasharray="2 4" fill="none"/>
<path d="M14.0 1050H2475.0" stroke="#ff00ff" stroke-width="2" stroke-dasharray="2 4" fill="none"/>
<path d="M13.0 741H2475.0" stroke="#ff3b3b" stroke-width="2.2" fill="none"/>
<path d="M14.0 291H2475.0" stroke="#eb4d5c" stroke-width="2" stroke-dasharray="2 4" fill="none"/>
<path d="M13 770.8L2268 87.6" stroke="#6aa84f" stroke-width="2" stroke-dasharray="2 4" fill="none"/>
<path d="M13 949.8L2262 465.4" stroke="#6aa84f" stroke-width="2" stroke-dasharray="2 4" fill="none"/>
<path d="M27.8 1088.5L170.7 1068.1" stroke="#bf9000" stroke-width="2" stroke-dasharray="2 4" fill="none"/>
<path d="M1086 716.5L1537 841.1" stroke="#ff9800" stroke-width="2" stroke-dasharray="2 4" fill="none"/>
<path d="M1190.6 894.4L1537 841.1" stroke="#ff9800" stroke-width="2" stroke-dasharray="2 4" fill="none"/>
<path d="M1681 658.5L1998.4 739.1" stroke="#ff00ff" stroke-width="2" stroke-dasharray="2 4" fill="none"/>
<path d="M1732.4 743.9L1997 804" stroke="#ff00ff" stroke-width="2" stroke-dasharray="2 4" fill="none"/>
<path d="M1160 815L2174.4 507.5" stroke="#00ffff" stroke-width="4.4" stroke-dasharray="4.4 7.6" fill="none"/>
<path d="M14.6 1070.8C18.9 1071.1 22.2 1071.3 31.8 1072.1C41.4 1072.9 42.4 1073.2 52.9 1074C63.5 1074.7 64.8 1074.9 74.1 1075.3C83.4 1075.6 86 1075.3 90 1075.3" fill="none" stroke="#f44a4a" stroke-width="2" stroke-linejoin="round" stroke-linecap="round"/>
<path d="M90 1075.3C95.3 1074.9 99.3 1075.1 111.2 1074C123.1 1072.8 127.7 1072.8 137.6 1070.5C147.6 1068.2 142.9 1069.1 150.9 1064.7C158.8 1060.3 160.8 1058.4 169.4 1052.8C178 1047.2 177.3 1048.8 185.3 1042.2C193.2 1035.6 194.5 1032.9 201.2 1026.3C207.8 1019.7 205.8 1022.3 211.8 1015.7C217.7 1009.1 218.4 1006.8 225 999.8C231.6 992.9 230.9 994.1 238.2 987.9C245.5 981.8 248.2 980 254.1 975.2C260 970.5 260 970.5 261.9 968.9" fill="none" stroke="#4ba04f" stroke-width="2" stroke-linejoin="round" stroke-linecap="round"/>
<path d="M261.9 968.9C265.6 966.3 267.7 966 276.5 958.4C285.3 950.7 288.5 948.1 297.1 938.5C305.7 928.9 302.8 930.6 310.9 920C319 909.4 322.1 906.1 329.4 896.2C336.7 886.2 333.4 888.9 340 880.3C346.6 871.7 346.6 872.3 355.9 861.7C365.1 851.2 365.5 849.5 377.1 837.9C388.6 826.3 392.3 822.7 402.2 815.4C412.1 808.1 408.5 813.8 416.8 808.8C425 803.8 426.7 800.9 435.3 795.6C443.9 790.3 442.6 792.1 451.2 787.6C459.8 783.1 461.8 780.8 469.7 777.6C477.6 774.4 473.7 777.4 482.9 774.9C492.2 772.5 496.8 773.2 506.7 767.8C516.7 762.4 516 759.8 522.6 753.2C529.2 746.6 526.6 747.6 533.2 741.3C539.8 735 541.2 733.8 549.1 728.1C557 722.3 557.7 723.1 565 718.3C572.3 713.5 570.9 713.1 578.2 708.8C585.5 704.4 584.8 703.3 594.1 700.8C603.4 698.4 605.3 700.1 615.3 699C625.2 697.8 629.2 697 633.8 696.3" fill="none" stroke="#4ba04f" stroke-width="2" stroke-linejoin="round" stroke-linecap="round"/>
<path d="M633.8 696.3C635.8 696.5 634.5 695.5 641.7 697.1C649 698.8 652.3 700.5 662.9 702.9C673.5 705.4 673.5 706.1 684.1 706.9C694.7 707.7 696 704.8 705.3 706.1C714.5 707.4 715 710.1 721.1 712.2C727.3 714.3 727.8 713.8 730 714.4" fill="none" stroke="#f44a4a" stroke-width="2" stroke-linejoin="round" stroke-linecap="round"/>
<path d="M730 714.4C733 715.4 735.6 716.9 741.9 718.4C748.2 719.8 751.8 719.8 755.1 720.2" fill="none" stroke="#f44a4a" stroke-width="2" stroke-linejoin="round" stroke-linecap="round"/>
<path d="M755.1 720.2C758.8 720.1 761.4 720.4 769.7 719.7C778 719 780.3 719.6 788.2 717.6C796.2 715.6 794.8 715.5 801.5 711.8C808.1 708 808.7 708.1 814.7 702.5C820.7 696.9 820 695.5 825.3 689.3C830.6 683 830.6 681.5 835.9 677.3C841.2 673.2 841.5 674.2 846.5 672.6C851.4 670.9 853.4 671.2 855.7 670.7" fill="none" stroke="#4ba04f" stroke-width="2" stroke-linejoin="round" stroke-linecap="round"/>
<path d="M855.7 670.7C858.7 671.7 860.7 671.7 867.6 674.7C874.6 677.7 876.9 677.3 883.5 682.6C890.1 687.9 889.1 689.3 894.1 695.9C899.1 702.5 898.1 702.5 903.4 709.1C908.7 715.7 909.3 716.4 915.3 722.3C921.2 728.3 921.2 728 927.2 732.9C933.1 737.9 932.8 737.2 939.1 742.2C945.4 747.2 945.7 748.5 952.3 752.8C959 757.1 958.3 756.9 965.6 759.4C972.9 761.8 973.5 761.2 981.5 762.6C989.4 763.9 990.1 763.8 997.3 764.7C1004.6 765.6 1007.3 765.7 1010.6 766" fill="none" stroke="#f44a4a" stroke-width="2" stroke-linejoin="round" stroke-linecap="round"/>
<path d="M1010.6 766 L1021.2 764.2" fill="none" stroke="#4ba04f" stroke-width="2" stroke-linejoin="round" stroke-linecap="round"/>
<path d="M1021.2 764.2C1024.5 764.6 1027.8 765.4 1034.4 766C1041 766.7 1039 766.1 1047.6 766.8C1056.2 767.5 1059.9 767.7 1068.8 768.7C1077.7 769.6 1079.7 770.1 1083.4 770.5" fill="none" stroke="#f44a4a" stroke-width="2" stroke-linejoin="round" stroke-linecap="round"/>
<path d="M1083.4 770.5C1087.7 769.4 1092.3 767.6 1100.6 766C1108.8 764.4 1107.8 765.3 1116.4 764.2C1125.1 763 1128.4 762.2 1135 761.5C1141.6 760.8 1140.9 761.3 1142.9 761.2" fill="none" stroke="#4ba04f" stroke-width="2" stroke-linejoin="round" stroke-linecap="round"/>
<path d="M1142.9 761.2C1146.6 761.6 1150.9 760.3 1157.5 762.6C1164.1 764.9 1162.8 766.7 1169.4 770.5C1176 774.4 1177.3 774.2 1183.9 777.9C1190.6 781.6 1190.2 781.7 1195.9 785.3C1201.5 789 1201.1 789.7 1206.4 792.5C1211.7 795.3 1211.2 795 1217 796.5C1222.9 797.9 1226.6 797.8 1229.9 798.2" fill="none" stroke="#f44a4a" stroke-width="2" stroke-linejoin="round" stroke-linecap="round"/>
<path d="M1229.9 798.2C1234.8 799 1238.1 800.4 1249.7 801.4C1261.3 802.4 1264.3 801.8 1276.2 802.2C1288.1 802.6 1288.1 802.7 1297.3 803C1306.6 803.3 1309.3 803.4 1313.2 803.5" fill="none" stroke="#f44a4a" stroke-width="2" stroke-linejoin="round" stroke-linecap="round"/>
<path d="M1313.2 803.5 L1326.5 802.2" fill="none" stroke="#4ba04f" stroke-width="2" stroke-linejoin="round" stroke-linecap="round"/>
<path d="M1326.5 802.2C1329.1 803.1 1330.4 804 1337.1 805.6C1343.7 807.3 1343.7 807.4 1352.9 808.8C1362.2 810.3 1363.5 810.3 1374.1 811.5C1384.7 812.6 1386 812.9 1395.3 813.6C1404.5 814.2 1403.2 813.2 1411.2 814.1C1419.1 815 1418.8 815.4 1427 817.3C1435.3 819.1 1439.9 820.5 1444.3 821.5" fill="none" stroke="#f44a4a" stroke-width="2" stroke-linejoin="round" stroke-linecap="round"/>
<path d="M1444.3 821.5C1447.9 821.3 1451.2 822.6 1458.8 820.7C1466.4 818.9 1466.7 817.1 1474.7 814.1C1482.6 811.1 1481.6 811.5 1490.6 808.8C1499.5 806.2 1501.2 807 1510.4 803.5C1519.7 800.1 1518 798.9 1527.6 795C1537.2 791.2 1538.2 791 1548.8 788.2C1559.4 785.3 1559.4 785 1570 783.7C1580.6 782.3 1580.6 783.3 1591.2 782.9C1601.7 782.4 1601.7 782.9 1612.3 781.8C1622.9 780.7 1622.3 779.7 1633.5 778.4C1644.8 777 1647.4 778.5 1657.3 776.5C1667.3 774.5 1665.9 774.3 1673.2 770.4C1680.5 766.6 1679.8 765.6 1686.4 761.2C1693.1 756.7 1693.8 756.9 1699.7 752.7C1705.5 748.5 1707.3 746.5 1709.9 744.4" fill="none" stroke="#4ba04f" stroke-width="2" stroke-linejoin="round" stroke-linecap="round"/>
<path d="M1709.9 744.4C1712.2 743.4 1712.8 742.9 1719.1 740.4C1725.4 737.9 1727.1 736.8 1735 734.3C1742.9 731.9 1744.3 731.8 1750.9 730.6C1757.5 729.5 1755.5 730.9 1761.5 729.8C1767.4 728.8 1771.4 727.3 1774.7 726.4" fill="none" stroke="#4ba04f" stroke-width="2" stroke-linejoin="round" stroke-linecap="round"/>
<path d="M1774.7 726.4C1778.7 726.6 1782.6 726.8 1790.6 727.2C1798.5 727.6 1798.5 727 1806.5 728C1814.4 729 1814.4 730 1822.3 731.2C1830.3 732.3 1834.3 732.2 1838.2 732.5" fill="none" stroke="#f44a4a" stroke-width="2" stroke-linejoin="round" stroke-linecap="round"/>
<path d="M1838.2 732.5C1842.2 732.3 1848.8 731.9 1854.1 731.7C1859.4 731.5 1858.1 731.7 1859.4 731.7" fill="none" stroke="#4ba04f" stroke-width="2" stroke-linejoin="round" stroke-linecap="round"/>
<path d="M1859.4 731.7C1863.4 732.2 1868.7 732.9 1875.3 733.8C1881.9 734.7 1880.6 734.6 1885.9 735.1C1891.2 735.7 1893.8 735.7 1896.5 735.9" fill="none" stroke="#f44a4a" stroke-width="2" stroke-linejoin="round" stroke-linecap="round"/>
<path d="M1896.5 735.9C1901.1 734.7 1907 734.3 1915 731.2C1922.9 728 1921.6 728.5 1928.2 723.2C1934.8 717.9 1935.5 716.3 1941.5 710C1947.4 703.7 1946.1 703.4 1952 698.1C1958 692.8 1958 694.4 1965.3 688.8C1972.6 683.2 1971.9 681.9 1981.2 675.6C1990.4 669.3 1991.7 670.6 2002.3 663.7C2012.9 656.7 2013.6 654.4 2023.5 647.8C2033.4 641.2 2032.8 642.8 2042 637.2C2051.3 631.6 2050.6 630.4 2060.6 625.3C2070.5 620.2 2072.5 619.6 2081.7 616.8C2091 614 2089.7 616 2097.6 614.2C2105.6 612.3 2106.9 612.2 2113.5 609.4C2120.1 606.6 2116.2 606.9 2124.1 602.8C2132 598.7 2136 597.4 2145.3 593C2154.5 588.6 2154.5 589.2 2161.1 585.1C2167.8 580.9 2166.4 581.5 2171.7 576.3C2177 571.2 2177.8 570.4 2182.3 564.4C2186.9 558.4 2188.1 555.5 2190 552.5" fill="none" stroke="#4ba04f" stroke-width="2" stroke-linejoin="round" stroke-linecap="round"/>
<path d="M2190 552.5C2191.6 550.2 2192 549.2 2196.4 543.4C2200.8 537.5 2202.7 537.3 2207.7 529.1C2212.7 520.9 2210.6 523.1 2216.3 510.7C2222 498.3 2224.1 492.2 2230.5 479.4C2236.9 466.6 2237.9 465.9 2241.8 459.5C2245.7 453.1 2245 455.3 2246.1 453.9" fill="none" stroke="#4ba04f" stroke-width="2" stroke-linejoin="round" stroke-linecap="round"/>
<path d="M16 1067.5V1073.4M24 1065.5V1072.9M37 1079.8V1085.1M41 1074.4V1084.3M50 1075.7V1087.7M62 1079.5V1084.8M66 1075.8V1082.9M71 1074.9V1082.5M75 1072.1V1081.2M87 1076.5V1080.6M92 1064.8V1083.9M104 1066.8V1077.2M113 1063.5V1075.8M117 1058V1075.9M121 1053.7V1058.9M125 1049.4V1058.7M134 1052V1062.3M138 1055.2V1061.3M142 999V1062.3M150 1009.8V1015.7M154 975.2V1030.3M167 982.3V996.9M171 978.2V992.1M175 956.2V983.5M180 964V978.6M184 967.2V970.9M188 922.8V973.8M192 917V941.3M201 886V925.2M209 903.7V919.1M213 864.8V916.1M217 870.9V885.7M222 874.2V876.4M243 890.2V897.1M247 887.1V894.7M251 864.8V892.8M255 882.4V885.3M268 890.3V896.2M272 868.9V898.6M276 837.4V877.4M285 832.5V861.4M293 823.7V838M297 793.1V829.7M301 804.7V808.8M306 766.8V816.3M310 734.8V770.5M322 738.3V796.9M331 740.1V775.9M335 712V744.9M339 716.1V727.8M348 701.6V743M356 730.4V744.8M364 721.5V732.9M369 711.4V731.9M373 709.4V722.4M377 691V719.4M385 719.6V724M390 714.2V721M398 719.3V725.2M411 749.3V786.3M415 750.6V757.3M419 726.9V756M423 721.3V734M427 711.4V732.1M444 730.7V745.8M448 715.5V739.3M457 709.1V729.1M486 742.7V786.3M490 744.8V749.7M494 731.2V746.5M499 713.5V740M503 713.8V729.6M511 653.1V733.8M520 644.9V666.5M524 608.2V659.1M532 615.1V625.8M541 627V631M557 634.7V681.2M562 631.9V645.1M570 634.2V664.4M574 604.5V651.9M604 673V691.1M620 668.9V704.5M625 676.5V685M629 669.2V681M654 722V748.6M658 726.3V740.9M662 712.6V731.7M675 726.8V745.3M679 728.3V735.1M683 725.3V730.2M688 684V728.9M696 684.9V706.2M713 732.6V770.2M717 741.8V747.3M725 732.9V750.5M738 747.8V750.8M746 733.8V765.5M750 727.6V753.7M755 712.8V739.8M759 712.9V725.4M763 716.3V720.6M767 710V721.8M771 713.6V719.6M776 700.6V714.5M784 697.6V714.2M788 693.1V704.7M792 655.1V703.6M797 640.8V655.6M805 636.3V668.1M809 620.4V641.2M818 579.9V635.8M822 549.2V593.8M826 515.9V571.5M830 510.6V542.7M834 534V562.2M847 614.4V641.8M868 728V755.4M872 707.8V738.8M881 738.6V746.9M906 799V877.4M914 796.5V823.6M927 827.7V880.6M931 805.3V833.7M944 827.5V861.9M956 811.7V853.4M960 810.7V830.7M969 765.4V827.9M977 758.9V792.7M981 772.9V784.3M990 793.2V794.1M994 780.5V796.9M998 755.9V791.6M1011 766.4V775.3M1015 731.5V781.6M1019 730.8V736.2M1032 779.4V800.8M1040 777.1V798.9M1044 742.2V778.2M1057 759.7V767.4M1074 785.8V792.3M1078 774.1V795.7M1086 743.2V788.3M1090 743.8V754.6M1099 719.7V750.9M1116 741.9V775.2M1124 732.9V758.7M1153 761.4V774.4M1170 833.6V844M1179 832.3V846.4M1183 830.4V838.3M1204 870.1V900.6M1208 848V879.7M1212 824.1V858.6M1216 814.1V836.7M1225 827.1V847.9M1229 814.8V836.6M1233 816.5V822.8M1237 813.1V820.9M1246 809V829.5M1254 791.5V811.9M1263 810.2V823.9M1267 801V817.8M1271 798.9V804.7M1275 800.4V803.9M1279 782.8V814.4M1292 800.4V818.3M1300 796.9V813M1313 804.8V820M1317 792.9V807.7M1321 791.7V800.2M1325 775.7V796.2M1346 826.8V854.1M1351 823V834.7M1355 826.8V830.5M1359 818.9V828.5M1363 820.3V827.1M1372 823V833.3M1376 822.7V835.2M1380 819.7V826.5M1384 810.5V824.5M1401 807.4V820.3M1405 806.3V814.2M1414 822.5V832.3M1426 841.7V844M1435 835.3V848.6M1447 806.8V851.8M1451 816.7V821.8M1460 787.5V843.7M1464 785.9V800.7M1468 781.5V786.4M1472 756.4V789M1481 769V771.3M1489 769.4V776.2M1493 763.1V777.1M1498 761.5V765.2M1506 764.9V768M1514 728.5V804.5M1535 745.7V776.7M1540 746.7V750.2M1552 753.9V783.9M1565 755.8V773.4M1590 776.3V785.6M1602 776.3V783.6M1607 771.7V786.2M1611 768V781.8M1615 760.7V770.4M1619 749.8V765.8M1628 761.1V766.8M1632 743.2V764.4M1649 775.2V786.7M1657 738.7V778.7M1665 716.1V754.5M1674 707.1V730.5M1678 668V724.3M1682 663.3V676.6M1691 668V682.6M1695 667.8V675.2M1703 685.5V701.1M1707 680V689.3M1712 673.9V686.7M1733 690.8V695.1M1741 691.8V697.8M1754 724.4V752.8M1758 723.7V725.9M1762 700V729.8M1766 685V705.7M1775 698V702.6M1787 721.3V752.7M1791 723V734M1800 723.1V745.9M1817 746.3V755.5M1821 743.2V749.1M1825 744.2V748.9M1829 725.9V752.3M1846 737.8V744.7M1850 729.7V741M1854 715.5V740.3M1858 698.1V717.9M1879 751.2V767.1M1884 744.1V756.9M1888 732.7V750.4M1900 689.3V770.2M1905 701.1V715.4M1909 698.3V706.4M1913 692.5V717.9M1917 680.7V703.2M1921 669.7V687.4M1926 613.4V671.1M1930 597.8V651.8M1938 578V616.1M1942 555.1V584M1947 562.1V582.7M1959 615.2V632.8M1963 595.3V619.5M1968 570V613.9M1980 564.1V593.3M1993 592.4V615.1M2005 589.4V608.6M2010 569.9V601.2M2014 571.7V575.5M2018 546.4V573.1M2039 567.3V591.8M2047 561V574.7M2052 541.9V567.8M2056 533.2V552.8M2068 572.3V593.5M2073 571.2V581.6M2089 596.3V617.9M2094 592.2V600.2M2098 590.4V594.7M2102 568.3V604.4M2110 563.4V573M2114 558V568.3M2119 510.7V580.4M2123 523.3V538M2131 509.4V552.2M2140 530.2V548.3M2152 538.5V547.3M2161 499V547.5M2165 472.1V527.2M2169 445.3V479.1M2182 444.3V475.4M2186 377.5V470.4M2190 364.9V404.6M2203 361V441.4M2207 333V374.6M2211 302V374.6M2215 266.2V320.9M2219 245.8V318.4M2224 236.1V283.6M2228 212.9V261.3" stroke="#a3c9d0" stroke-width="2" fill="none"/>
<path d="M20 1067.6V1073.4M29 1065V1073.1M33 1065.5V1089.3M45 1078.3V1083.7M54 1078.4V1083.5M58 1080.9V1082.7M79 1073V1082M83 1078V1080.1M96 1065.5V1072.2M100 1064.9V1072.5M108 1068.2V1079.5M129 1049.7V1061.4M146 1010.1V1018.5M159 981.7V988.2M163 982.4V990.7M196 914.8V926.9M205 904.6V913.8M226 855.1V881.9M230 878.7V897.7M234 889V919.1M238 889V894.1M259 876.9V892.6M264 882.7V899.6M280 853.2V861.6M289 832V835.3M314 673.3V876.3M318 763.1V813.6M327 738.8V777.1M343 717.1V740.5M352 718.3V747.3M360 727.8V736.5M381 702.9V728.9M394 711.4V720.7M402 716V721.9M406 700.9V796.9M431 709.7V731.5M436 719.4V729.5M440 718.1V745.5M452 715.3V735.7M461 707.5V722.7M465 717.2V720.3M469 716.3V729.3M473 718.3V747.4M478 734.7V783.7M482 743.4V778.4M507 720.2V727M515 652.8V666.1M528 615.5V625.7M536 611.4V659.3M545 630.1V635.6M549 632.7V643.7M553 627.7V668.4M566 627.9V670M578 615V645.9M583 638.7V649.7M587 638.5V651.2M591 644.3V679.1M595 653.2V662.1M599 645.2V690.2M608 666.6V691.4M612 687.4V724.1M616 688.5V700.2M633 669.7V678.6M637 667.9V700.9M641 694.4V710.5M646 692.7V748.2M650 734V754.5M667 705.5V734.1M671 730.3V749.7M692 689.4V702.1M700 673.5V712.7M704 701.9V733.2M708 711.4V777.6M721 734.1V750.8M729 729.1V747.7M734 732.7V753.6M742 714.4V779.2M780 702.1V714.9M801 643.6V658.4M813 631.5V637.2M839 526.4V664.1M843 600.6V661.5M851 594V637.5M855 625.3V662.7M860 657.3V714.3M864 689.3V771.3M876 716.8V796.5M885 739.9V760.2M889 734.3V808.1M893 804.8V861.5M897 839.5V908.9M902 846.9V895.7M910 809.8V829.7M918 806.6V843.2M923 837.6V852.4M935 812.3V842.7M939 828.6V873.9M948 829.4V875.3M952 848.1V854.1M965 815.7V823.9M973 763.6V785.6M986 775.5V808.4M1002 760.1V774.9M1006 768.7V779.3M1023 733V774.6M1027 770.8V813.7M1036 783.4V788.3M1048 750.7V761.5M1053 760.1V771.9M1061 757.5V784.4M1065 779.9V794.2M1069 789.3V809.2M1082 776V790.9M1095 744.2V750.3M1103 727.1V740.9M1107 736.5V749.5M1111 736.1V762.5M1120 744.1V758.7M1128 735.8V740.9M1132 738.6V745.1M1137 735.2V756.8M1141 750.5V762.8M1145 753.2V770.1M1149 765.5V773.3M1158 758.8V822.8M1162 808.4V863.2M1166 835.9V842M1174 827.7V847.7M1187 826.8V840.2M1191 837.3V848M1195 844.4V848.4M1200 830.5V903.7M1221 812.6V849M1242 813.5V821.6M1250 807.7V811.7M1258 792.8V836.7M1283 780.5V811.6M1288 799.3V825.4M1296 802.8V812.8M1304 797.9V816M1309 804.2V818M1330 773.6V831.1M1334 825.3V830.6M1338 828.5V838.9M1342 836V855.9M1367 823.3V828.7M1388 807.4V815.4M1393 808.8V820.3M1397 814.6V823.4M1409 810.3V844.4M1418 821.2V845.5M1422 838.4V857.8M1430 837.5V847.2M1439 837.4V845.7M1443 844V855.9M1456 819.1V826.4M1477 761.9V778.3M1485 766.8V777.6M1502 760.7V766.5M1510 763.8V795.9M1519 719.3V738.7M1523 738V746.1M1527 738V749.6M1531 738.4V767M1544 743.1V756.3M1548 736V772.7M1556 753.2V757.6M1560 750.6V785.3M1569 754.1V761M1573 753.7V780M1577 775.6V795.6M1581 776.3V785.6M1586 779.9V785.5M1594 775.2V785.2M1598 778.5V785.8M1623 756.2V768M1636 752.6V763.3M1640 753.8V759.6M1644 746.8V789M1653 774.5V781.1M1661 748.5V756.2M1670 702.9V734.7M1686 665.3V677.3M1699 664.4V704.7M1716 676.1V678.1M1720 672.1V681.4M1724 673V706.9M1728 685.4V700.2M1737 687.2V696.7M1745 692.4V700.9M1749 684.8V748.4M1770 689.9V703.4M1779 685V757.9M1783 736V744.7M1796 722.7V755.3M1804 716.9V738M1808 729V763.5M1812 748.9V767.7M1833 730.1V744.7M1837 735.4V739.7M1842 735V744.1M1863 704.6V742.3M1867 740.7V746M1871 743V746.5M1875 741.7V775.6M1892 729.9V754M1896 743.8V764.2M1934 604.9V619.1M1951 562.3V610.2M1955 595.9V654.4M1972 573.9V597.9M1976 585.5V590M1984 574.6V632.7M1989 603.8V612.4M1997 597.8V602.8M2001 600.3V606.2M2022 537.9V570.2M2026 565.7V593M2031 566.7V573.5M2035 572.3V590.6M2043 565.3V574.6M2060 530V555.6M2064 542.3V578.7M2077 569.8V572.9M2081 569.7V584.7M2085 578.8V611.1M2106 568.4V573M2127 494.3V578.2M2135 526V567.1M2144 529.2V538.1M2148 536.5V563.1M2156 540.1V549.5M2173 448.8V463M2177 442.9V478.2M2194 346.9V405.6M2198 383.3V460.7M2232 209V284.5M2236 230V278.7M2240 233.2V271.4M2245 246.8V305.8" stroke="#f5a3ac" stroke-width="2" fill="none"/>
<path d="M14 1068.4h4V1071.4h-4zM22 1069.1h4V1072.1h-4zM35 1081.3h4V1084.4h-4zM39 1079.9h4V1081.5h-4zM48 1080.8h4V1082.4h-4zM60 1081.1h4V1082.7h-4zM64 1077h4V1081.3h-4zM69 1076.2h4V1077.8h-4zM73 1075.4h4V1077h-4zM85 1078.4h4V1080h-4zM90 1067.2h4V1078.6h-4zM102 1068.4h4V1071.5h-4zM111 1071.3h4V1074.6h-4zM115 1058.6h4V1071.3h-4zM119 1055.6h4V1058.6h-4zM123 1052.5h4V1055.6h-4zM132 1056.3h4V1057.9h-4zM136 1055.4h4V1057h-4zM140 1011.8h4V1055.6h-4zM148 1012.7h4V1014.3h-4zM152 986.6h4V1013.1h-4zM165 987.8h4V989.4h-4zM169 980h4V988.5h-4zM173 977.9h4V980h-4zM178 969.4h4V977.9h-4zM182 967.9h4V969.5h-4zM186 937.6h4V968.1h-4zM190 920.4h4V937.6h-4zM199 911.2h4V922.3h-4zM207 907.2h4V911.7h-4zM211 879.4h4V907.2h-4zM215 876h4V879.4h-4zM220 875.2h4V876.8h-4zM241 892.8h4V894.4h-4zM245 891.8h4V893.4h-4zM249 884.2h4V892.1h-4zM253 882.8h4V884.4h-4zM266 892.7h4V894.3h-4zM270 876.3h4V893h-4zM274 853.8h4V876.3h-4zM283 834h4V859.1h-4zM291 827.3h4V835.3h-4zM295 807.5h4V827.3h-4zM299 806h4V807.6h-4zM304 767h4V806.2h-4zM308 737.9h4V767h-4zM320 742.6h4V794.3h-4zM329 742.6h4V771.2h-4zM333 727.3h4V742.6h-4zM337 718.8h4V727.3h-4zM346 724.6h4V740h-4zM354 730.7h4V740h-4zM362 728.1h4V731.5h-4zM367 713.5h4V728.1h-4zM371 712.5h4V714.1h-4zM375 706.9h4V713h-4zM383 719.3h4V720.9h-4zM388 714.8h4V720.1h-4zM396 719.1h4V720.7h-4zM409 754.5h4V767h-4zM413 751.1h4V754.5h-4zM417 728.6h4V751.1h-4zM421 726.8h4V728.6h-4zM425 714.8h4V726.8h-4zM442 730.7h4V740h-4zM446 719.6h4V730.7h-4zM455 714.8h4V728.1h-4zM484 749.3h4V777h-4zM488 745.3h4V749.3h-4zM492 737.9h4V745.3h-4zM497 726.2h4V737.9h-4zM501 721.5h4V726.2h-4zM509 653.2h4V724.6h-4zM518 645.2h4V660.1h-4zM522 618.2h4V645.2h-4zM530 621h4V622.6h-4zM539 630.1h4V631.7h-4zM555 639.4h4V668h-4zM560 632.8h4V639.4h-4zM568 644.7h4V660.6h-4zM572 615.1h4V644.7h-4zM602 679.1h4V689.2h-4zM618 683.1h4V699h-4zM623 677.8h4V683.1h-4zM627 672.5h4V677.8h-4zM652 731.5h4V740h-4zM656 728.1h4V731.5h-4zM660 717.5h4V728.1h-4zM673 732h4V744.8h-4zM677 729.4h4V732h-4zM681 725.4h4V729.4h-4zM686 693.7h4V725.4h-4zM694 690.2h4V701.6h-4zM711 745.3h4V767h-4zM715 742.1h4V745.3h-4zM723 734.7h4V746.6h-4zM736 748.7h4V750.3h-4zM744 746.2h4V759.4h-4zM748 734.3h4V746.2h-4zM753 722.3h4V734.3h-4zM757 719.7h4V722.3h-4zM761 718.6h4V720.2h-4zM765 717.6h4V719.2h-4zM769 713.9h4V717.6h-4zM774 704.3h4V713.9h-4zM782 701.2h4V713.1h-4zM786 694.5h4V701.2h-4zM790 655.6h4V694.5h-4zM795 644.3h4V655.6h-4zM803 636.3h4V657.5h-4zM807 632.9h4V636.3h-4zM816 584.7h4V633.7h-4zM820 553.5h4V584.7h-4zM824 540.2h4V553.5h-4zM828 539.2h4V540.8h-4zM832 537.9h4V539.7h-4zM845 619.6h4V638.2h-4zM866 734.3h4V748.8h-4zM870 719.2h4V734.3h-4zM879 740.9h4V743.5h-4zM904 811.8h4V875.3h-4zM912 813.7h4V823.5h-4zM925 829.5h4V852h-4zM929 812.3h4V829.5h-4zM942 833h4V857.3h-4zM954 826.1h4V849.4h-4zM958 816.3h4V826.1h-4zM967 774h4V817.6h-4zM975 780.6h4V785.3h-4zM979 779.1h4V780.7h-4zM988 792.5h4V794.1h-4zM992 783.7h4V793.3h-4zM996 766h4V783.7h-4zM1009 766.8h4V775.3h-4zM1013 736.1h4V766.8h-4zM1017 734.8h4V736.4h-4zM1030 783.7h4V798.6h-4zM1038 777.9h4V785.9h-4zM1042 756.7h4V777.9h-4zM1055 760.7h4V766h-4zM1072 788.5h4V791.2h-4zM1076 777.9h4V788.5h-4zM1084 754.1h4V787.2h-4zM1088 746.2h4V754.1h-4zM1097 732.4h4V748.8h-4zM1114 745.6h4V760.7h-4zM1122 737.7h4V752.8h-4zM1151 765.2h4V773.2h-4zM1168 834.8h4V842h-4zM1177 835.6h4V844.1h-4zM1181 833h4V835.6h-4zM1202 873.2h4V887h-4zM1206 848.1h4V873.2h-4zM1210 828.7h4V848.1h-4zM1214 822h4V828.7h-4zM1223 834h4V840.6h-4zM1227 821.5h4V834h-4zM1231 816.7h4V821.5h-4zM1235 813.6h4V816.7h-4zM1244 809.3h4V816.2h-4zM1252 796.9h4V810.9h-4zM1261 814.1h4V823.4h-4zM1265 803.5h4V814.1h-4zM1269 802.1h4V803.7h-4zM1273 801h4V802.6h-4zM1277 786.3h4V801.4h-4zM1290 803.5h4V817.3h-4zM1298 798.2h4V810.9h-4zM1311 804.8h4V814.6h-4zM1315 797.7h4V804.8h-4zM1319 794.3h4V797.7h-4zM1323 779.2h4V794.3h-4zM1344 832.6h4V849.8h-4zM1349 830h4V832.6h-4zM1353 827.3h4V830h-4zM1357 824.7h4V827.3h-4zM1361 823.2h4V824.8h-4zM1370 827.9h4V829.5h-4zM1374 826h4V828.7h-4zM1378 822.6h4V826h-4zM1382 812.8h4V822.6h-4zM1399 812.8h4V818.9h-4zM1403 811.6h4V813.2h-4zM1412 824.7h4V829.5h-4zM1424 842.2h4V843.8h-4zM1433 837.9h4V846.4h-4zM1445 819.4h4V848.5h-4zM1449 818.6h4V820.2h-4zM1458 799.5h4V823.4h-4zM1462 786.3h4V799.5h-4zM1466 785.5h4V787.1h-4zM1470 766.5h4V786.3h-4zM1479 769h4V770.6h-4zM1487 770.4h4V773.9h-4zM1491 765.1h4V770.4h-4zM1496 763.7h4V765.3h-4zM1504 765.1h4V766.7h-4zM1512 736h4V784.5h-4zM1533 749.3h4V761.7h-4zM1538 747.4h4V749.3h-4zM1550 755.9h4V765.9h-4zM1563 755.9h4V771.8h-4zM1588 779.2h4V785h-4zM1600 780.2h4V782.3h-4zM1605 777.6h4V780.2h-4zM1609 769.6h4V777.6h-4zM1613 761.7h4V769.6h-4zM1617 756.4h4V761.7h-4zM1626 762.5h4V766.5h-4zM1630 752.7h4V762.5h-4zM1647 775.7h4V780.2h-4zM1655 752.7h4V778.4h-4zM1663 718.3h4V753.8h-4zM1672 718.8h4V727.3h-4zM1676 674.3h4V718.8h-4zM1680 668h4V674.3h-4zM1689 670.3h4V675.9h-4zM1693 669.5h4V671.1h-4zM1701 687.5h4V696.7h-4zM1705 680.3h4V687.5h-4zM1710 676.1h4V680.3h-4zM1731 690.9h4V693.6h-4zM1739 692.6h4V694.2h-4zM1752 724.5h4V740.4h-4zM1756 723.7h4V725.3h-4zM1760 703.4h4V724.5h-4zM1764 690.1h4V703.4h-4zM1773 698.1h4V699.9h-4zM1785 733.8h4V743.1h-4zM1789 726.4h4V733.8h-4zM1798 726.4h4V745.7h-4zM1815 748.4h4V753.7h-4zM1819 747.2h4V748.8h-4zM1823 746.5h4V748.1h-4zM1827 730.6h4V747h-4zM1844 738.6h4V741.2h-4zM1848 731.7h4V738.6h-4zM1852 715.8h4V731.7h-4zM1856 712.6h4V715.8h-4zM1877 753.7h4V766.1h-4zM1882 748.4h4V753.7h-4zM1886 734.3h4V748.4h-4zM1898 710h4V750.2h-4zM1903 703.4h4V710h-4zM1907 700.7h4V703.4h-4zM1911 699.5h4V701.1h-4zM1915 683.5h4V699.9h-4zM1919 670.3h4V683.5h-4zM1924 637.2h4V670.3h-4zM1928 611.5h4V637.2h-4zM1936 583.5h4V614.7h-4zM1940 575h4V583.5h-4zM1945 568.4h4V575h-4zM1957 617.9h4V629.3h-4zM1961 607.3h4V617.9h-4zM1966 578.2h4V607.3h-4zM1978 577.6h4V588.2h-4zM1991 598.8h4V610.7h-4zM2003 596.7h4V603.6h-4zM2008 572.3h4V596.7h-4zM2012 571.5h4V573.1h-4zM2016 553.3h4V572.3h-4zM2037 569.2h4V588.8h-4zM2045 563.9h4V571.8h-4zM2050 549.1h4V563.9h-4zM2054 536.6h4V549.1h-4zM2066 575h4V577.1h-4zM2071 571.8h4V575h-4zM2087 600.1h4V605.4h-4zM2092 593.5h4V600.1h-4zM2096 591.4h4V593.5h-4zM2100 569.7h4V591.4h-4zM2108 567.6h4V572.9h-4zM2112 560.4h4V567.6h-4zM2117 530h4V560.4h-4zM2121 524.2h4V530h-4zM2129 528.7h4V551.2h-4zM2138 532.6h4V538.5h-4zM2150 541.1h4V545.3h-4zM2159 518.9h4V547.2h-4zM2163 474.3h4V518.9h-4zM2167 452h4V474.3h-4zM2180 463.1h4V467.5h-4zM2184 384.3h4V463.1h-4zM2188 366.8h4V384.3h-4zM2201 366.3h4V433.6h-4zM2205 349.4h4V366.3h-4zM2209 305.5h4V349.4h-4zM2213 280.3h4V305.5h-4zM2217 267.1h4V280.3h-4zM2222 241.6h4V267.1h-4zM2226 228.4h4V241.6h-4z" fill="#53b987"/>
<path d="M18 1068.4h4V1072.1h-4zM27 1069.1h4V1071.5h-4zM31 1071.5h4V1084.4h-4zM43 1080.1h4V1081.9h-4zM52 1080.8h4V1082.4h-4zM56 1081.4h4V1083h-4zM77 1075.4h4V1079.1h-4zM81 1078.6h4V1080.2h-4zM94 1066.8h4V1068.4h-4zM98 1068.1h4V1071.5h-4zM106 1068.4h4V1074.6h-4zM127 1052.5h4V1057.4h-4zM144 1011.8h4V1013.9h-4zM157 986.2h4V987.8h-4zM161 987.3h4V988.9h-4zM194 920.4h4V922.3h-4zM203 910.6h4V912.2h-4zM224 876h4V879.4h-4zM228 879.4h4V891.3h-4zM232 891.2h4V892.8h-4zM236 892.5h4V894.1h-4zM257 882.9h4V888.2h-4zM262 888.2h4V894h-4zM278 853.8h4V859.1h-4zM287 833.8h4V835.4h-4zM312 737.9h4V771.8h-4zM316 771.8h4V794.3h-4zM325 742.6h4V771.2h-4zM341 718.8h4V740h-4zM350 724.6h4V740h-4zM358 730.3h4V731.9h-4zM379 706.9h4V720.1h-4zM392 714.8h4V720.1h-4zM400 719.5h4V721.1h-4zM404 720.9h4V767h-4zM429 714.8h4V724.1h-4zM434 724.1h4V726.8h-4zM438 726.8h4V740h-4zM450 719.6h4V728.1h-4zM459 714.8h4V717.5h-4zM463 717.1h4V718.7h-4zM467 718.3h4V727.3h-4zM471 727.3h4V741.3h-4zM476 741.3h4V754.5h-4zM480 754.5h4V777h-4zM505 721.5h4V724.6h-4zM513 653.2h4V660.1h-4zM526 618.2h4V622.2h-4zM534 621.4h4V630.9h-4zM543 630.9h4V635.4h-4zM547 635.4h4V642.6h-4zM551 642.6h4V668h-4zM564 632.8h4V660.6h-4zM576 615.1h4V639.4h-4zM581 639.4h4V644.7h-4zM585 644.7h4V648.7h-4zM589 648.7h4V656.6h-4zM593 656.6h4V659.3h-4zM597 659.3h4V689.2h-4zM606 679.1h4V689.7h-4zM610 689.7h4V691.8h-4zM614 691.8h4V699h-4zM631 672.5h4V677.3h-4zM635 677.3h4V696.3h-4zM639 696.3h4V701.6h-4zM644 701.6h4V735.2h-4zM648 735.2h4V740h-4zM665 717.5h4V733.4h-4zM669 733.4h4V744.8h-4zM690 693.7h4V701.6h-4zM698 690.2h4V705.6h-4zM702 705.6h4V718.3h-4zM706 718.3h4V767h-4zM719 742.1h4V746.6h-4zM727 734.7h4V740h-4zM732 740h4V750.1h-4zM740 748.8h4V759.4h-4zM778 704.3h4V713.1h-4zM799 644.3h4V657.5h-4zM811 632.5h4V634.1h-4zM837 537.9h4V614.3h-4zM841 614.3h4V638.2h-4zM849 619.6h4V636.3h-4zM853 636.3h4V657.5h-4zM858 657.5h4V707.8h-4zM862 707.8h4V748.8h-4zM874 719.2h4V743.5h-4zM883 740.9h4V748.3h-4zM887 748.3h4V805.7h-4zM891 805.7h4V841.5h-4zM895 841.5h4V854.2h-4zM900 854.2h4V875.3h-4zM908 811.8h4V823.5h-4zM916 813.7h4V838.8h-4zM921 838.8h4V852h-4zM933 812.3h4V832.2h-4zM937 832.2h4V857.3h-4zM946 833h4V848.9h-4zM950 848.3h4V849.9h-4zM963 816.2h4V817.8h-4zM971 774h4V785.3h-4zM984 779.2h4V793.3h-4zM1000 766h4V772.6h-4zM1004 772.6h4V775.3h-4zM1021 735h4V771.3h-4zM1025 771.3h4V798.6h-4zM1034 783.7h4V785.9h-4zM1046 756.7h4V760.7h-4zM1051 760.7h4V766h-4zM1059 760.7h4V780h-4zM1063 780h4V789.8h-4zM1067 789.7h4V791.3h-4zM1080 777.9h4V787.2h-4zM1093 746.2h4V748.8h-4zM1101 732.4h4V740.3h-4zM1105 740.1h4V741.7h-4zM1109 741.4h4V760.7h-4zM1118 745.6h4V752.8h-4zM1126 737.7h4V740.3h-4zM1130 740.1h4V741.7h-4zM1135 741.4h4V751.5h-4zM1139 751.5h4V754.6h-4zM1143 754.6h4V770h-4zM1147 770h4V773.2h-4zM1156 765.2h4V815h-4zM1160 815h4V841.5h-4zM1164 840.9h4V842.5h-4zM1172 834.8h4V844.1h-4zM1185 833h4V840.1h-4zM1189 840.1h4V844.6h-4zM1193 844.6h4V847.3h-4zM1198 847.3h4V887h-4zM1219 822h4V840.6h-4zM1240 813.6h4V816.2h-4zM1248 809.3h4V810.9h-4zM1256 796.9h4V823.4h-4zM1281 786.3h4V811.5h-4zM1286 811.5h4V817.3h-4zM1294 803.5h4V810.9h-4zM1302 798.2h4V811.5h-4zM1307 811.5h4V814.6h-4zM1328 779.2h4V830h-4zM1332 829.4h4V831h-4zM1336 830.5h4V836.6h-4zM1340 836.6h4V849.8h-4zM1365 823.4h4V828.7h-4zM1386 812.8h4V814.6h-4zM1391 814.6h4V818.1h-4zM1395 817.7h4V819.3h-4zM1407 812h4V829.5h-4zM1416 824.7h4V841.9h-4zM1420 841.8h4V843.4h-4zM1428 842.7h4V846.4h-4zM1437 837.9h4V845.3h-4zM1441 845.3h4V848.5h-4zM1454 819.4h4V823.4h-4zM1475 766.5h4V770.4h-4zM1483 769.1h4V773.9h-4zM1500 763.8h4V765.9h-4zM1508 765.9h4V784.5h-4zM1517 736h4V738.7h-4zM1521 738.7h4V742.1h-4zM1525 741.6h4V743.2h-4zM1529 742.6h4V761.7h-4zM1542 747.4h4V754.5h-4zM1546 754.5h4V765.9h-4zM1554 755.3h4V756.9h-4zM1558 756.4h4V771.8h-4zM1567 755.9h4V758h-4zM1571 758h4V775.7h-4zM1575 775.6h4V777.2h-4zM1579 777h4V781.8h-4zM1584 781.8h4V785h-4zM1592 778.9h4V780.5h-4zM1596 780.2h4V782.3h-4zM1621 756.4h4V766.5h-4zM1634 752.7h4V755.3h-4zM1638 755.3h4V757.2h-4zM1642 757.2h4V780.2h-4zM1651 775.7h4V778.4h-4zM1659 752.4h4V754h-4zM1668 718.3h4V727.3h-4zM1684 668h4V675.9h-4zM1697 670.3h4V696.7h-4zM1714 675.7h4V677.3h-4zM1718 676.9h4V680.3h-4zM1722 680.3h4V692.8h-4zM1726 692.4h4V694h-4zM1735 690.9h4V694.1h-4zM1743 692.8h4V696.7h-4zM1747 696.7h4V740.4h-4zM1768 690.1h4V699.9h-4zM1777 698.1h4V739.1h-4zM1781 739.1h4V743.1h-4zM1794 726.4h4V745.7h-4zM1802 726.4h4V736.5h-4zM1806 736.5h4V751.8h-4zM1810 751.8h4V753.7h-4zM1831 730.6h4V737h-4zM1835 737h4V739.1h-4zM1840 739.1h4V741.2h-4zM1861 712.6h4V741.7h-4zM1865 741.7h4V743.9h-4zM1869 743.3h4V744.9h-4zM1873 744.4h4V766.1h-4zM1890 734.3h4V746.5h-4zM1894 746.5h4V750.2h-4zM1932 611.5h4V614.7h-4zM1949 568.4h4V602.8h-4zM1953 602.8h4V629.3h-4zM1970 578.2h4V586.1h-4zM1974 586.1h4V588.2h-4zM1982 577.6h4V607.3h-4zM1987 607.3h4V610.7h-4zM1995 598.8h4V600.9h-4zM1999 600.9h4V603.6h-4zM2020 553.3h4V567.1h-4zM2024 567.1h4V571h-4zM2029 570.9h4V572.5h-4zM2033 572.3h4V588.8h-4zM2041 569.2h4V571.8h-4zM2058 536.6h4V553.3h-4zM2062 553.3h4V577.1h-4zM2075 571.3h4V572.9h-4zM2079 572.3h4V584.3h-4zM2083 584.3h4V605.4h-4zM2104 569.7h4V572.9h-4zM2125 524.2h4V551.2h-4zM2133 528.7h4V538.5h-4zM2142 532.6h4V536.6h-4zM2146 536.6h4V545.3h-4zM2154 541.1h4V547.2h-4zM2171 452h4V462.3h-4zM2175 462.3h4V467.5h-4zM2192 366.8h4V387.6h-4zM2196 387.6h4V433.6h-4zM2230 228.4h4V246.4h-4zM2234 246.1h4V247.7h-4zM2238 247.4h4V249.3h-4zM2243 249.3h4V291.3h-4z" fill="#eb4d5c"/>
</g>
<g clip-path="url(#cs)">
<polyline points="16,1342.4 20.2,1351.4 24.4,1357.4 28.6,1366.9 32.8,1370.4 37,1369.7 41.2,1366.1 45.4,1359.8 49.6,1351.9 53.8,1345.7 58,1341.3 62.2,1338.5 66.4,1327.7 70.6,1305.6 74.8,1273.9 78.9,1251.7 83.1,1245.3 87.3,1253.3 91.5,1254.7 95.7,1246.5 99.9,1235.4 104.1,1233.4 108.3,1244.6 112.5,1255.6 116.7,1261 120.9,1251 125.1,1234.4 129.3,1224.2 133.5,1226.5 137.7,1237.9 141.9,1241.6 146.1,1239.3 150.3,1232.5 154.5,1229.1 158.7,1225.4 162.9,1223.2 167.1,1223 171.3,1226.1 175.5,1228.6 179.7,1227.3 183.9,1226.3 188.1,1224.7 192.3,1225.2 196.5,1226.3 200.7,1231.8 204.9,1244.6 209.1,1256.1 213.3,1261.9 217.4,1253.1 221.6,1240.7 225.8,1242 230,1268.2 234.2,1310.6 238.4,1349.9 242.6,1371.6 246.8,1378.4 251,1372.8 255.2,1367.7 259.4,1364.8 263.6,1371.1 267.8,1376.1 272,1376 276.2,1360.8 280.4,1336.6 284.6,1303.8 288.8,1273.3 293,1244.7 297.2,1228.4 301.4,1218.7 305.6,1217 309.8,1216.9 314,1229.6 318.2,1261 322.4,1303.3 326.6,1340.2 330.8,1356 335,1360.6 339.2,1354.6 343.4,1353 347.6,1352.7 351.8,1361 355.9,1367.3 360.1,1373 364.3,1373.7 368.5,1368.6 372.7,1353.4 376.9,1330.5 381.1,1320.1 385.3,1326.2 389.5,1346.3 393.7,1360.8 397.9,1368.7 402.1,1374 406.3,1378.2 410.5,1379.1 414.7,1373.3 418.9,1359 423.1,1339.4 427.3,1315.4 431.5,1299.3 435.7,1290.4 439.9,1294.9 444.1,1301.3 448.3,1306.1 452.5,1301.3 456.7,1289.2 460.9,1278.2 465.1,1269.1 469.3,1277 473.5,1299.4 477.7,1333.7 481.9,1362 486.1,1370 490.3,1355.7 494.5,1325.5 498.6,1295.1 502.8,1271 507,1254.5 511.2,1242 515.4,1234.1 519.6,1226.4 523.8,1221.8 528,1218.3 532.2,1218.3 536.4,1221.1 540.6,1226.9 544.8,1236.3 549,1248.8 553.2,1274.3 557.4,1302.2 561.6,1326.7 565.8,1336.3 570,1342.2 574.2,1344.6 578.4,1344.7 582.6,1344.4 586.8,1352.5 591,1364.8 595.2,1375.9 599.4,1379.9 603.6,1379 607.8,1376.4 612,1373.6 616.2,1376.1 620.4,1375.2 624.6,1367.7 628.8,1350.6 633,1333.3 637.1,1325.8 641.3,1333.3 645.5,1352 649.7,1369.7 653.9,1376.3 658.1,1370.5 662.3,1353.1 666.5,1335.9 670.7,1325.4 674.9,1326.2 679.1,1327.1 683.3,1318.7 687.5,1298.4 691.7,1272.4 695.9,1246.2 700.1,1233.7 704.3,1235.2 708.5,1262.2 712.7,1293.6 716.9,1323.7 721.1,1331 725.3,1326.3 729.5,1315.6 733.7,1309.9 737.9,1311.3 742.1,1318.1 746.3,1322.9 750.5,1319 754.7,1297.6 758.9,1267.6 763.1,1237.4 767.3,1220.8 771.5,1214.7 775.6,1214.4 779.8,1217.1 784,1220.3 788.2,1223.6 792.4,1221 796.6,1217.7 800.8,1218 805,1223.2 809.2,1229.5 813.4,1229.7 817.6,1226.8 821.8,1222 826,1218.6 830.2,1216.2 834.4,1214.7 838.6,1228.1 842.8,1265.9 847,1317.4 851.2,1357.5 855.4,1373.4 859.6,1377.3 863.8,1379.4 868,1380.3 872.2,1377.5 876.4,1373.2 880.6,1369.6 884.8,1369.2 889,1371 893.2,1374.2 897.4,1377.7 901.6,1380.3 905.8,1376 910,1359.1 914.2,1326.8 918.3,1293.8 922.5,1270.3 926.7,1261.4 930.9,1254.4 935.1,1244.5 939.3,1237.5 943.5,1236.5 947.7,1240.6 951.9,1240.2 956.1,1237.5 960.3,1231.8 964.5,1225.2 968.7,1219.3 972.9,1217.7 977.1,1220.2 981.3,1224.4 985.5,1228.9 989.7,1234.9 993.9,1240.7 998.1,1241.2 1002.3,1236.1 1006.5,1229.3 1010.7,1226 1014.9,1224.2 1019.1,1221.3 1023.3,1228.7 1027.5,1256 1031.7,1301.4 1035.9,1338.6 1040.1,1352.5 1044.3,1342.2 1048.5,1323 1052.7,1305 1056.8,1295.4 1061,1299.7 1065.2,1315.8 1069.4,1340 1073.6,1359.6 1077.8,1365.4 1082,1357.5 1086.2,1332.4 1090.4,1300.1 1094.6,1261.4 1098.8,1235.1 1103,1224.2 1107.2,1227 1111.4,1241.3 1115.6,1256.6 1119.8,1276.1 1124,1280.9 1128.2,1282.4 1132.4,1275.1 1136.6,1279.1 1140.8,1293.5 1145,1323.1 1149.2,1353.8 1153.4,1371.2 1157.6,1375.2 1161.8,1372.3 1166,1375.1 1170.2,1376.5 1174.4,1376.9 1178.6,1371.4 1182.8,1365.5 1187,1359 1191.2,1355.8 1195.3,1356.4 1199.5,1360.9 1203.7,1364.5 1207.9,1360.1 1212.1,1333.9 1216.3,1291.8 1220.5,1251.9 1224.7,1232.4 1228.9,1229.9 1233.1,1228.4 1237.3,1223.5 1241.5,1217.8 1245.7,1215.3 1249.9,1215.6 1254.1,1216 1258.3,1221.7 1262.5,1233.7 1266.7,1250.3 1270.9,1259.5 1275.1,1258.5 1279.3,1249 1283.5,1248.7 1287.7,1267.4 1291.9,1302.1 1296.1,1330.8 1300.3,1335.9 1304.5,1332.4 1308.7,1329.3 1312.9,1337.7 1317.1,1337.8 1321.3,1324.2 1325.5,1297 1329.7,1281.2 1333.9,1285.5 1338,1317 1342.2,1344.7 1346.4,1364.4 1350.6,1363.3 1354.8,1353.8 1359,1341 1363.2,1330.5 1367.4,1325.7 1371.6,1324 1375.8,1324.5 1380,1323.6 1384.2,1312.6 1388.4,1288.8 1392.6,1257.9 1396.8,1237.9 1401,1230.3 1405.2,1229 1409.4,1241.2 1413.6,1269.7 1417.8,1315 1422,1347.3 1426.2,1368.3 1430.4,1375.8 1434.6,1376.1 1438.8,1369.3 1443,1360.9 1447.2,1348.7 1451.4,1321.4 1455.6,1278.3 1459.8,1243 1464,1224.5 1468.2,1220.2 1472.4,1217.1 1476.5,1215.7 1480.7,1217.6 1484.9,1222 1489.1,1226.5 1493.3,1230.3 1497.5,1230.6 1501.7,1230.1 1505.9,1230.7 1510.1,1244.7 1514.3,1258 1518.5,1269.1 1522.7,1258 1526.9,1250.2 1531.1,1255.4 1535.3,1279.7 1539.5,1307.2 1543.7,1323.4 1547.9,1334.8 1552.1,1345.5 1556.3,1355.5 1560.5,1360.5 1564.7,1359.1 1568.9,1356.7 1573.1,1354.7 1577.3,1357.5 1581.5,1366 1585.7,1375.6 1589.9,1379.3 1594.1,1375 1598.3,1367.2 1602.5,1359 1606.7,1351 1610.9,1336.6 1615,1310.8 1619.2,1275.8 1623.4,1249 1627.6,1239.6 1631.8,1243.4 1636,1244 1640.2,1239.2 1644.4,1246.9 1648.6,1271.9 1652.8,1315.2 1657,1330.4 1661.2,1318.7 1665.4,1278.5 1669.6,1251.6 1673.8,1236.2 1678,1232.4 1682.2,1227.2 1686.4,1223.8 1690.6,1221.9 1694.8,1224.7 1699,1232.5 1703.2,1245.6 1707.4,1262.3 1711.6,1275.3 1715.8,1283.6 1720,1291.8 1724.2,1308.2 1728.4,1332.9 1732.6,1356.5 1736.8,1371.3 1741,1376.3 1745.2,1377.7 1749.4,1378.6 1753.6,1377 1757.7,1370.3 1761.9,1354.8 1766.1,1333.3 1770.3,1309.8 1774.5,1292.6 1778.7,1293.3 1782.9,1308.3 1787.1,1332.1 1791.3,1343.9 1795.5,1346.4 1799.7,1338.7 1803.9,1333.9 1808.1,1332.2 1812.3,1341.7 1816.5,1354.4 1820.7,1365 1824.9,1364.6 1829.1,1353.3 1833.3,1330.5 1837.5,1299.6 1841.7,1275.3 1845.9,1264.2 1850.1,1260.6 1854.3,1251.7 1858.5,1235.7 1862.7,1233.9 1866.9,1254.9 1871.1,1294.7 1875.3,1330.1 1879.5,1349.8 1883.7,1353.3 1887.9,1340.2 1892.1,1321 1896.2,1304.8 1900.4,1294.3 1904.6,1279.8 1908.8,1254.2 1913,1231 1917.2,1216.9 1921.4,1214.4 1925.6,1214.4 1929.8,1214.4 1934,1215.3 1938.2,1216.4 1942.4,1217.6 1946.6,1216.9 1950.8,1221.7 1955,1243.6 1959.2,1282.8 1963.4,1325.6 1967.6,1346.4 1971.8,1346.9 1976,1336.4 1980.2,1331.7 1984.4,1335.7 1988.6,1346.4 1992.8,1360.5 1997,1370.1 2001.2,1373.9 2005.4,1371 2009.6,1357.4 2013.8,1330.5 2018,1293.6 2022.2,1266.7 2026.4,1258.9 2030.6,1274.2 2034.8,1301.7 2038.9,1325.5 2043.1,1339.6 2047.3,1335.7 2051.5,1324.1 2055.7,1301.9 2059.9,1284 2064.1,1283.8 2068.3,1307.5 2072.5,1341.4 2076.7,1363.3 2080.9,1371.3 2085.1,1372.8 2089.3,1375.4 2093.5,1375.6 2097.7,1370.5 2101.9,1357.1 2106.1,1339.2 2110.3,1319.1 2114.5,1300.3 2118.7,1278.2 2122.9,1253 2127.1,1238.2 2131.3,1237.6 2135.5,1252.9 2139.7,1263.1 2143.9,1271.3 2148.1,1276.9 2152.3,1287.7 2156.5,1306.5 2160.7,1319.2 2164.9,1318.1 2169.1,1289.7 2173.3,1256.4 2177.4,1236.4 2181.6,1237.5 2185.8,1243.7 2190,1241.4 2194.2,1234 2198.4,1240.5 2202.6,1259.4 2206.8,1281.7 2211,1284.6 2215.2,1275.2 2219.4,1258.9 2223.6,1246.7 2227.8,1235.7 2232,1230 2236.2,1231.4 2240.4,1241.6 2244.6,1260.2" fill="none" stroke="#ff8a1f" stroke-opacity="0.72" stroke-width="2" stroke-linejoin="round"/>
<polyline points="16.1,1342.4 20.2,1360.4 24.7,1370.3 32.3,1371.1 37.6,1367.1 43,1356.3 49.7,1343.4 53.8,1341.6 62.4,1335.4 65.9,1313.3 70.5,1273 74.8,1240.2 79.3,1242.9 87.4,1264.4 91.4,1247.4 96,1227.3 102.2,1232.6 104.3,1242.1 108.4,1262.2 112.9,1263.8 117,1256.8 121,1231.3 125,1213.8 129.1,1225.9 133.6,1239.4 137.9,1248.8 142,1237.5 146.6,1231.3 151.1,1227.3 154.6,1227.3 159.2,1220 163.5,1221.9 168.1,1227.8 172.1,1230.8 176.1,1228.6 180.2,1221.9 184.2,1227.8 188.2,1224 192.3,1224 197.6,1232.6 201.7,1243.4 205.2,1264.4 209.7,1265.5 213.8,1256.8 217.8,1234 221.8,1227.8 225.9,1262.2 229.9,1313.3 233.9,1353.7 238.8,1381.9 243.4,1379.2 247.4,1375.2 251.4,1361.7 255.5,1364.4 259.5,1367.1 263.5,1381.9 267.6,1380 271.6,1369.8 275.6,1340.2 279.7,1313.3 284.5,1268.9 289.1,1243.4 293.1,1220 297.1,1219.7 301.2,1215.7 309.2,1215.7 313.3,1243.4 317.3,1302.6 322.7,1348.8 326.7,1364.9 330.8,1357.7 334.8,1360.4 339.4,1345.6 343.7,1353.7 348.2,1359.6 352.3,1373 356.3,1371.9 360.9,1376.5 365.2,1372.5 369.2,1353.7 373.2,1326.8 377.3,1302.6 381.3,1326.8 385.3,1348.3 389.9,1366.6 393.9,1369.3 398,1371.9 402.6,1381.9 406.9,1381.9 411.4,1372.5 415.5,1361.7 419.5,1334.8 423.5,1313.3 427.6,1290.5 431.6,1290.5 436.2,1288.6 440.5,1307.9 444.5,1310.1 448.5,1302.6 453.1,1289.1 457.1,1271.6 461.2,1269.8 465.2,1263.6 469.2,1297.2 473.8,1340.2 478.1,1369.8 482.2,1383.2 486.2,1360.4 490.2,1324.1 494.8,1289.1 498.8,1268.9 502.9,1251.5 507.4,1241.3 511.7,1231.3 515,1228.6 519.5,1219.2 523.8,1218.7 528.4,1217.1 532.4,1219.2 536.5,1227.3 541,1235.3 545.3,1248.8 549.4,1266.3 553.4,1313.3 558,1333.5 562,1338.9 566.1,1339.7 570.1,1348.8 574.1,1345.6 578.2,1339.7 582.2,1345.6 587,1371.1 591.6,1377.9 595.6,1381.4 599.7,1381.9 603.7,1373.8 611.8,1373 616.3,1381.9 620.6,1369.8 624,1353.7 628.1,1332.1 633.4,1317.4 637.5,1329.5 641.5,1353.7 646.1,1377.9 650.1,1381.9 654.4,1371.1 658.5,1356.3 663,1324.6 667.1,1320 671.1,1326.8 675.7,1332.7 679.7,1321.9 683.7,1298.5 687.8,1268.9 692.1,1243.4 696.1,1221.1 700.7,1235.3 704.7,1251.5 708.7,1306.6 712.8,1328.1 717.3,1341.6 721.6,1322.7 725.7,1312.5 729.7,1307.9 733.7,1307.9 738.3,1318.7 742.9,1330.8 746.9,1320.8 751,1303.9 755,1260.9 759,1231.3 763.3,1214.4 767.9,1214.4 776,1214.4 780.5,1224 788.6,1224 792.6,1214.4 796.9,1214.4 801.5,1226.7 805.5,1230.8 809.6,1233.5 813.6,1225.1 818.2,1221.1 822.2,1218.7 827.1,1214.4 835.1,1214.4 839.2,1262.2 843.2,1334.8 847.8,1375.7 855.8,1375.7 860.7,1381.9 864.7,1381.9 868.7,1377.9 872.8,1371.1 876.8,1368.4 880.8,1367.9 884.9,1371.1 888.9,1373.8 893.5,1377.9 897.8,1381.9 901.8,1381.9 906.4,1361.7 910.4,1326.8 915,1275.7 919,1263.6 923.3,1259.5 927.4,1258.2 931.9,1240.7 936,1227.8 940,1239.4 944,1242.1 948.1,1242.6 952.6,1235.3 956.7,1233.2 961,1224 965,1215.7 969.6,1215.7 973.6,1221.9 977.6,1224.6 981.7,1228.6 986.3,1235.3 990.6,1243.9 994.6,1246.1 998.6,1234 1003.2,1225.4 1007.2,1225.1 1011.3,1225.9 1015.3,1221.1 1019.9,1215.7 1023.4,1248.8 1027.4,1302.6 1032.2,1359.6 1036.3,1359.6 1040.3,1344.2 1044.3,1321.4 1048.9,1299.9 1052.9,1290.5 1057,1293.2 1061,1314.7 1065.6,1341.6 1069.9,1368.4 1074.5,1374.6 1078.5,1353.7 1082.5,1340.2 1086.6,1294.5 1091.1,1254.2 1095.4,1219.2 1099.5,1219.2 1104,1230 1108.1,1235.3 1112.1,1267.6 1116.1,1274.3 1120.2,1294.5 1124.2,1275.7 1128.2,1277.8 1132.8,1270.3 1136.3,1286.4 1140.9,1321.4 1145.2,1361.7 1149.7,1383.2 1153.8,1371.9 1161.8,1371.9 1166.4,1382.4 1170.5,1375.7 1174.8,1373 1179.3,1363.1 1183.4,1357.7 1187.9,1352.8 1192,1355.5 1196.3,1361.7 1200.3,1368.4 1204.9,1364.9 1208.9,1341.6 1212.9,1275.7 1217,1232.6 1221.5,1225.9 1225.8,1231.8 1229.9,1231.8 1233.9,1221.1 1237.9,1214.4 1240,1214.4 1245.4,1215.7 1250.8,1216.5 1254.8,1215.7 1258.8,1235.3 1262.9,1254.2 1267.4,1267.6 1271.5,1259.5 1275.8,1247.4 1279.8,1235.3 1283.8,1262.2 1288.4,1313.3 1292.4,1345.6 1297,1346.1 1300.5,1318.7 1304.5,1330.8 1309.1,1337.5 1313.4,1346.9 1318,1326.8 1322,1289.1 1326.1,1259.5 1330.1,1286.4 1334.1,1310.6 1338.7,1366.3 1343,1366.6 1347,1368.4 1351.1,1353.7 1355.6,1334.8 1359.7,1328.6 1363.7,1323.3 1367.7,1323.5 1371.8,1324.6 1376.3,1325.4 1380.6,1320 1385.2,1283.7 1389.2,1246.1 1393.3,1224.6 1397.8,1234 1402.2,1230 1405.9,1222.7 1409.9,1275.7 1414.3,1324.1 1418.3,1364.9 1422.3,1365.2 1426.9,1382.4 1430.9,1382.4 1435,1364.4 1439.5,1358.2 1443.6,1357.2 1447.9,1324.1 1451.9,1270.3 1455.9,1223.8 1463.2,1223.2 1468.6,1214.4 1472.6,1214.4 1476.6,1217.9 1481.2,1221.1 1485.2,1228.1 1489.3,1231.3 1493.6,1232.1 1498.2,1228.1 1502.2,1230 1506.2,1234 1510.8,1277 1514.8,1268.4 1518.9,1267.1 1523.2,1234 1527.7,1248.8 1531.8,1289.1 1535.8,1313.3 1540.4,1332.1 1544.7,1330.8 1548.7,1348.3 1552.7,1363.1 1557.3,1360.4 1561.3,1359.6 1565.4,1355.8 1569.4,1353.7 1573.4,1353.7 1578,1367.1 1582.3,1382.4 1586.9,1382.4 1590.9,1373.8 1595,1364.4 1599.5,1356.9 1603.6,1349.6 1607.6,1340.2 1611.9,1307.9 1615.9,1264.9 1620,1231.3 1624.5,1236.7 1628.6,1248.8 1632.6,1248.8 1637.2,1233.5 1641.2,1230.8 1644.7,1275.7 1648.7,1313.3 1653.3,1367.1 1657.3,1313.3 1661.6,1273 1666.2,1234 1670.3,1237.5 1674.3,1230 1678.3,1229.4 1682.9,1219.7 1687.2,1221.1 1691.8,1224.6 1695.8,1231.3 1699.8,1247.4 1703.9,1266.3 1707.9,1281.6 1712.5,1283.7 1716.8,1289.1 1720.8,1307.9 1724.8,1337.5 1729.4,1369.3 1733.4,1376.5 1737.5,1377.1 1741.5,1377.1 1745.5,1379.2 1750.1,1379.7 1754.2,1371.1 1758.5,1356.3 1762.5,1329.5 1767.1,1302.6 1771.1,1285.1 1775.1,1281.1 1779.2,1313.3 1783.7,1337.5 1788,1357.2 1792.1,1342.9 1796.1,1340.2 1800.7,1327.3 1804.7,1332.1 1808.7,1336.2 1812.8,1361.2 1817.6,1371.9 1821.6,1365.8 1825.7,1355 1829.7,1332.1 1833.7,1294.5 1837.8,1262.2 1842.4,1262.8 1846.4,1265.7 1850.4,1252.8 1855,1232.6 1859.3,1213.8 1862.7,1248.8 1866.7,1297.2 1871.6,1341.6 1875.6,1355.8 1880.2,1358.2 1884.2,1345.6 1888.8,1307.9 1892.8,1298.5 1897.1,1298.8 1901.7,1278.4 1905.7,1248.8 1909.7,1214.4 1913.8,1214.4 1929.9,1214.4 1935.3,1217.9 1943.4,1217.9 1947.4,1214.4 1951.4,1235.3 1956,1297.2 1960,1341.6 1964.3,1365.8 1968.4,1341.6 1972.4,1332.7 1976.4,1328.6 1980.5,1332.1 1985,1348.3 1989.1,1363.1 1993.6,1377.1 1997.9,1373.8 2002,1372.5 2006,1364.4 2010.1,1329.5 2014.1,1289.1 2018.7,1248.8 2022.7,1253.6 2026.7,1270.3 2030.8,1302.6 2035.3,1340.2 2039.6,1340.2 2043.7,1343.7 2048.2,1318.7 2052.3,1302.6 2056.8,1268.4 2060.9,1270.3 2064.9,1313.3 2069.2,1356.3 2073.2,1375.2 2077.8,1369 2081.8,1372.5 2085.9,1377.1 2090.5,1378.7 2094.8,1369.8 2098.8,1357.7 2102.8,1332.1 2107.4,1313.3 2111.4,1295.8 2115.5,1277 2119.5,1246.1 2123.5,1221.1 2127.6,1239.4 2131.6,1251.5 2136.2,1274.3 2140.5,1266.3 2144.5,1277 2148.5,1289.1 2153.1,1302.6 2157.1,1337.5 2161.2,1324.1 2165.7,1290.5 2169.8,1236.7 2173.8,1224 2178.1,1239.4 2182.7,1252.8 2186.7,1242.1 2190.8,1227.3 2194.8,1227.8 2198.8,1267.6 2203.4,1290.5 2207.7,1295.8 2211.7,1267.6 2215.8,1256.8 2219.8,1244.7 2224.4,1234 2228.4,1224 2233,1230 2237.3,1243.4 2241.3,1259.5 2245.9,1294.5" fill="none" stroke="#2196f3" stroke-opacity="0.62" stroke-width="2" stroke-linejoin="round"/>
<path d="M14.0 1246.7H2475.0M14.0 1347.9H2475.0" stroke="#484848" stroke-width="2" stroke-dasharray="10 12" fill="none"/>
<rect x="13.0" y="1247.7" width="2462.0" height="101.2" fill="#a747ef" fill-opacity="0.25"/>
</g>
<g clip-path="url(#cd)">
<path d="M82.2 1490.6h1.6V1491.2h-1.6zM86.2 1490.3h1.6V1491.2h-1.6zM91.2 1489.8h1.6V1491.2h-1.6zM95.2 1489.4h1.6V1491.2h-1.6zM99.2 1489.3h1.6V1491.2h-1.6zM103.2 1489.2h1.6V1491.2h-1.6zM107.2 1489.1h1.6V1491.2h-1.6zM112.2 1489.1h1.6V1491.2h-1.6zM116.2 1488.8h1.6V1491.2h-1.6zM120.2 1488.5h1.6V1491.2h-1.6zM124.2 1488.2h1.6V1491.2h-1.6zM141.2 1486.5h1.6V1491.2h-1.6zM145.2 1485.1h1.6V1491.2h-1.6zM149.2 1484h1.6V1491.2h-1.6zM153.2 1482.9h1.6V1491.2h-1.6zM158.2 1482h1.6V1491.2h-1.6zM187.2 1484h1.6V1491.2h-1.6zM191.2 1483.3h1.6V1491.2h-1.6zM195.2 1483.1h1.6V1491.2h-1.6zM200.2 1483.1h1.6V1491.2h-1.6zM212.2 1483.9h1.6V1491.2h-1.6zM216.2 1483.2h1.6V1491.2h-1.6zM292.2 1490.4h1.6V1491.2h-1.6zM296.2 1489.6h1.6V1491.2h-1.6zM300.2 1489.4h1.6V1491.2h-1.6zM305.2 1486.3h1.6V1491.2h-1.6zM309.2 1483.2h1.6V1491.2h-1.6zM321.2 1485.5h1.6V1491.2h-1.6zM334.2 1487.6h1.6V1491.2h-1.6zM338.2 1486.8h1.6V1491.2h-1.6zM506.2 1490.5h1.6V1491.2h-1.6zM510.2 1486.9h1.6V1491.2h-1.6zM514.2 1483.3h1.6V1491.2h-1.6zM519.2 1480.6h1.6V1491.2h-1.6zM523.2 1478.7h1.6V1491.2h-1.6zM527.2 1477h1.6V1491.2h-1.6zM561.2 1490.6h1.6V1491.2h-1.6zM687.2 1489.6h1.6V1491.2h-1.6zM691.2 1487.7h1.6V1491.2h-1.6zM695.2 1486.3h1.6V1491.2h-1.6zM749.2 1490.1h1.6V1491.2h-1.6zM754.2 1488.9h1.6V1491.2h-1.6zM758.2 1487.5h1.6V1491.2h-1.6zM762.2 1486.5h1.6V1491.2h-1.6zM766.2 1486.2h1.6V1491.2h-1.6zM770.2 1485.8h1.6V1491.2h-1.6zM775.2 1485.6h1.6V1491.2h-1.6zM779.2 1485.4h1.6V1491.2h-1.6zM783.2 1485.4h1.6V1491.2h-1.6zM787.2 1484.3h1.6V1491.2h-1.6zM791.2 1482h1.6V1491.2h-1.6zM796.2 1480.1h1.6V1491.2h-1.6zM800.2 1479.3h1.6V1491.2h-1.6zM804.2 1478.9h1.6V1491.2h-1.6zM817.2 1478.9h1.6V1491.2h-1.6zM821.2 1477.1h1.6V1491.2h-1.6zM825.2 1474.2h1.6V1491.2h-1.6zM829.2 1473.5h1.6V1491.2h-1.6zM943.2 1490.6h1.6V1491.2h-1.6zM947.2 1489.4h1.6V1491.2h-1.6zM951.2 1489.4h1.6V1491.2h-1.6zM955.2 1487.6h1.6V1491.2h-1.6zM959.2 1485h1.6V1491.2h-1.6zM964.2 1483h1.6V1491.2h-1.6zM968.2 1479.5h1.6V1491.2h-1.6zM972.2 1477h1.6V1491.2h-1.6zM976.2 1475.5h1.6V1491.2h-1.6zM980.2 1475.1h1.6V1491.2h-1.6zM1014.2 1480.8h1.6V1491.2h-1.6zM1047.2 1488.8h1.6V1491.2h-1.6zM1052.2 1488.5h1.6V1491.2h-1.6zM1085.2 1490.6h1.6V1491.2h-1.6zM1089.2 1489.6h1.6V1491.2h-1.6zM1094.2 1488.2h1.6V1491.2h-1.6zM1098.2 1487.4h1.6V1491.2h-1.6zM1102.2 1487.1h1.6V1491.2h-1.6zM1106.2 1487h1.6V1491.2h-1.6zM1127.2 1489.4h1.6V1491.2h-1.6zM1215.2 1490.5h1.6V1491.2h-1.6zM1220.2 1489.1h1.6V1491.2h-1.6zM1224.2 1488.1h1.6V1491.2h-1.6zM1228.2 1486.7h1.6V1491.2h-1.6zM1232.2 1485.3h1.6V1491.2h-1.6zM1236.2 1484.2h1.6V1491.2h-1.6zM1241.2 1483.6h1.6V1491.2h-1.6zM1245.2 1483.4h1.6V1491.2h-1.6zM1249.2 1483.3h1.6V1491.2h-1.6zM1253.2 1483.1h1.6V1491.2h-1.6zM1312.2 1490.6h1.6V1491.2h-1.6zM1316.2 1490.6h1.6V1491.2h-1.6zM1320.2 1489.5h1.6V1491.2h-1.6zM1324.2 1488.2h1.6V1491.2h-1.6zM1383.2 1490.6h1.6V1491.2h-1.6zM1387.2 1490.3h1.6V1491.2h-1.6zM1392.2 1490h1.6V1491.2h-1.6zM1396.2 1489.9h1.6V1491.2h-1.6zM1400.2 1489.6h1.6V1491.2h-1.6zM1450.2 1490.6h1.6V1491.2h-1.6zM1455.2 1489.8h1.6V1491.2h-1.6zM1459.2 1487.9h1.6V1491.2h-1.6zM1463.2 1486.4h1.6V1491.2h-1.6zM1467.2 1484.2h1.6V1491.2h-1.6zM1471.2 1483h1.6V1491.2h-1.6zM1476.2 1482.3h1.6V1491.2h-1.6zM1480.2 1482h1.6V1491.2h-1.6zM1513.2 1487.2h1.6V1491.2h-1.6zM1518.2 1487.2h1.6V1491.2h-1.6zM1522.2 1487.2h1.6V1491.2h-1.6zM1618.2 1490.6h1.6V1491.2h-1.6zM1622.2 1490.4h1.6V1491.2h-1.6zM1627.2 1490h1.6V1491.2h-1.6zM1631.2 1489.6h1.6V1491.2h-1.6zM1635.2 1489.6h1.6V1491.2h-1.6zM1639.2 1489.6h1.6V1491.2h-1.6zM1660.2 1489.9h1.6V1491.2h-1.6zM1664.2 1488h1.6V1491.2h-1.6zM1669.2 1486.7h1.6V1491.2h-1.6zM1673.2 1486h1.6V1491.2h-1.6zM1677.2 1482.9h1.6V1491.2h-1.6zM1681.2 1480h1.6V1491.2h-1.6zM1685.2 1479.4h1.6V1491.2h-1.6zM1845.2 1490.5h1.6V1491.2h-1.6zM1849.2 1490h1.6V1491.2h-1.6zM1853.2 1488.3h1.6V1491.2h-1.6zM1857.2 1486.6h1.6V1491.2h-1.6zM1899.2 1490.6h1.6V1491.2h-1.6zM1904.2 1489.4h1.6V1491.2h-1.6zM1908.2 1488.4h1.6V1491.2h-1.6zM1912.2 1487.2h1.6V1491.2h-1.6zM1916.2 1485.8h1.6V1491.2h-1.6zM1920.2 1484.2h1.6V1491.2h-1.6zM1925.2 1481.6h1.6V1491.2h-1.6zM1929.2 1477.8h1.6V1491.2h-1.6zM1933.2 1477.4h1.6V1491.2h-1.6zM1937.2 1476.6h1.6V1491.2h-1.6zM1941.2 1474.5h1.6V1491.2h-1.6zM1946.2 1473.8h1.6V1491.2h-1.6zM2118.2 1490.6h1.6V1491.2h-1.6zM2122.2 1487.9h1.6V1491.2h-1.6zM2130.2 1488.1h1.6V1491.2h-1.6zM2134.2 1487.5h1.6V1491.2h-1.6zM2143.2 1487.7h1.6V1491.2h-1.6zM2164.2 1486.6h1.6V1491.2h-1.6zM2168.2 1482.4h1.6V1491.2h-1.6zM2172.2 1481.6h1.6V1491.2h-1.6zM2181.2 1481.5h1.6V1491.2h-1.6zM2185.2 1477.4h1.6V1491.2h-1.6zM2189.2 1474.2h1.6V1491.2h-1.6zM2193.2 1473.5h1.6V1491.2h-1.6zM2206.2 1477.3h1.6V1491.2h-1.6zM2210.2 1475h1.6V1491.2h-1.6zM2214.2 1473.1h1.6V1491.2h-1.6zM2218.2 1471.5h1.6V1491.2h-1.6zM2223.2 1470.1h1.6V1491.2h-1.6zM2227.2 1469.5h1.6V1491.2h-1.6z" fill="#26a69a"/>
<path d="M128.2 1488.2h1.6V1491.2h-1.6zM133.2 1488.4h1.6V1491.2h-1.6zM137.2 1488.6h1.6V1491.2h-1.6zM162.2 1482.8h1.6V1491.2h-1.6zM166.2 1483.5h1.6V1491.2h-1.6zM170.2 1483.7h1.6V1491.2h-1.6zM174.2 1484.1h1.6V1491.2h-1.6zM179.2 1484.5h1.6V1491.2h-1.6zM183.2 1484.9h1.6V1491.2h-1.6zM204.2 1483.3h1.6V1491.2h-1.6zM208.2 1484.3h1.6V1491.2h-1.6zM221.2 1484.1h1.6V1491.2h-1.6zM225.2 1484.4h1.6V1491.2h-1.6zM229.2 1487.5h1.6V1491.2h-1.6zM233.2 1490.5h1.6V1491.2h-1.6zM313.2 1483.3h1.6V1491.2h-1.6zM317.2 1485.8h1.6V1491.2h-1.6zM326.2 1487.4h1.6V1491.2h-1.6zM330.2 1487.8h1.6V1491.2h-1.6zM342.2 1488.3h1.6V1491.2h-1.6zM347.2 1489.4h1.6V1491.2h-1.6zM351.2 1490.6h1.6V1491.2h-1.6zM531.2 1477.5h1.6V1491.2h-1.6zM535.2 1478.7h1.6V1491.2h-1.6zM540.2 1480.9h1.6V1491.2h-1.6zM544.2 1482.8h1.6V1491.2h-1.6zM548.2 1486h1.6V1491.2h-1.6zM552.2 1489.2h1.6V1491.2h-1.6zM556.2 1490.6h1.6V1491.2h-1.6zM699.2 1486.4h1.6V1491.2h-1.6zM703.2 1486.9h1.6V1491.2h-1.6zM707.2 1490h1.6V1491.2h-1.6zM808.2 1479.3h1.6V1491.2h-1.6zM812.2 1479.9h1.6V1491.2h-1.6zM833.2 1473.6h1.6V1491.2h-1.6zM838.2 1480.2h1.6V1491.2h-1.6zM842.2 1486.5h1.6V1491.2h-1.6zM985.2 1476.7h1.6V1491.2h-1.6zM989.2 1478.1h1.6V1491.2h-1.6zM993.2 1478.5h1.6V1491.2h-1.6zM997.2 1478.5h1.6V1491.2h-1.6zM1001.2 1479.5h1.6V1491.2h-1.6zM1005.2 1480.8h1.6V1491.2h-1.6zM1010.2 1481.6h1.6V1491.2h-1.6zM1018.2 1480.8h1.6V1491.2h-1.6zM1022.2 1482.5h1.6V1491.2h-1.6zM1026.2 1485.7h1.6V1491.2h-1.6zM1031.2 1487.6h1.6V1491.2h-1.6zM1035.2 1488.8h1.6V1491.2h-1.6zM1039.2 1489h1.6V1491.2h-1.6zM1043.2 1489h1.6V1491.2h-1.6zM1056.2 1488.7h1.6V1491.2h-1.6zM1060.2 1489.7h1.6V1491.2h-1.6zM1064.2 1490.6h1.6V1491.2h-1.6zM1110.2 1487.9h1.6V1491.2h-1.6zM1115.2 1489h1.6V1491.2h-1.6zM1119.2 1489.4h1.6V1491.2h-1.6zM1123.2 1489.5h1.6V1491.2h-1.6zM1131.2 1489.7h1.6V1491.2h-1.6zM1136.2 1490.6h1.6V1491.2h-1.6zM1257.2 1483.5h1.6V1491.2h-1.6zM1262.2 1484.5h1.6V1491.2h-1.6zM1266.2 1484.8h1.6V1491.2h-1.6zM1270.2 1484.9h1.6V1491.2h-1.6zM1274.2 1484.9h1.6V1491.2h-1.6zM1278.2 1485.7h1.6V1491.2h-1.6zM1282.2 1487.2h1.6V1491.2h-1.6zM1287.2 1488.2h1.6V1491.2h-1.6zM1291.2 1488.8h1.6V1491.2h-1.6zM1295.2 1489.1h1.6V1491.2h-1.6zM1299.2 1489.3h1.6V1491.2h-1.6zM1303.2 1489.9h1.6V1491.2h-1.6zM1308.2 1490.6h1.6V1491.2h-1.6zM1329.2 1490.6h1.6V1491.2h-1.6zM1404.2 1489.7h1.6V1491.2h-1.6zM1408.2 1490.5h1.6V1491.2h-1.6zM1413.2 1490.6h1.6V1491.2h-1.6zM1484.2 1482.7h1.6V1491.2h-1.6zM1488.2 1483.7h1.6V1491.2h-1.6zM1492.2 1484.5h1.6V1491.2h-1.6zM1497.2 1485.2h1.6V1491.2h-1.6zM1501.2 1486.5h1.6V1491.2h-1.6zM1505.2 1487.4h1.6V1491.2h-1.6zM1509.2 1487.8h1.6V1491.2h-1.6zM1526.2 1487.5h1.6V1491.2h-1.6zM1530.2 1489h1.6V1491.2h-1.6zM1534.2 1490.2h1.6V1491.2h-1.6zM1539.2 1490.6h1.6V1491.2h-1.6zM1643.2 1490.6h1.6V1491.2h-1.6zM1690.2 1479.9h1.6V1491.2h-1.6zM1694.2 1480.8h1.6V1491.2h-1.6zM1698.2 1482.9h1.6V1491.2h-1.6zM1702.2 1485.5h1.6V1491.2h-1.6zM1706.2 1486.7h1.6V1491.2h-1.6zM1711.2 1487.6h1.6V1491.2h-1.6zM1715.2 1488.7h1.6V1491.2h-1.6zM1719.2 1489.7h1.6V1491.2h-1.6zM1862.2 1488.6h1.6V1491.2h-1.6zM1866.2 1489.3h1.6V1491.2h-1.6zM1870.2 1490.2h1.6V1491.2h-1.6zM1950.2 1476.8h1.6V1491.2h-1.6zM1954.2 1480.7h1.6V1491.2h-1.6zM1958.2 1484.4h1.6V1491.2h-1.6zM1962.2 1487.1h1.6V1491.2h-1.6zM1967.2 1487.7h1.6V1491.2h-1.6zM1971.2 1488.1h1.6V1491.2h-1.6zM1975.2 1488.8h1.6V1491.2h-1.6zM1979.2 1489.5h1.6V1491.2h-1.6zM2126.2 1488.3h1.6V1491.2h-1.6zM2139.2 1487.7h1.6V1491.2h-1.6zM2147.2 1488.6h1.6V1491.2h-1.6zM2151.2 1489.5h1.6V1491.2h-1.6zM2155.2 1490h1.6V1491.2h-1.6zM2160.2 1490.2h1.6V1491.2h-1.6zM2176.2 1481.7h1.6V1491.2h-1.6zM2197.2 1477.8h1.6V1491.2h-1.6zM2202.2 1478.3h1.6V1491.2h-1.6zM2231.2 1472.1h1.6V1491.2h-1.6zM2235.2 1475.6h1.6V1491.2h-1.6zM2239.2 1480.3h1.6V1491.2h-1.6zM2244.2 1486.2h1.6V1491.2h-1.6z" fill="#b2dfdb"/>
<path d="M19.2 1491.2h1.6V1493.2h-1.6zM23.2 1491.2h1.6V1493h-1.6zM44.2 1491.2h1.6V1493.7h-1.6zM49.2 1491.2h1.6V1493.4h-1.6zM53.2 1491.2h1.6V1493.2h-1.6zM57.2 1491.2h1.6V1493.1h-1.6zM61.2 1491.2h1.6V1493.1h-1.6zM65.2 1491.2h1.6V1492.5h-1.6zM70.2 1491.2h1.6V1492h-1.6zM74.2 1491.2h1.6V1491.8h-1.6zM78.2 1491.2h1.6V1491.8h-1.6zM275.2 1491.2h1.6V1496h-1.6zM279.2 1491.2h1.6V1494.7h-1.6zM284.2 1491.2h1.6V1492.7h-1.6zM288.2 1491.2h1.6V1491.8h-1.6zM393.2 1491.2h1.6V1496.9h-1.6zM397.2 1491.2h1.6V1496.8h-1.6zM418.2 1491.2h1.6V1501.3h-1.6zM422.2 1491.2h1.6V1499.8h-1.6zM426.2 1491.2h1.6V1498.3h-1.6zM430.2 1491.2h1.6V1496.8h-1.6zM435.2 1491.2h1.6V1496.3h-1.6zM439.2 1491.2h1.6V1496.2h-1.6zM443.2 1491.2h1.6V1495.5h-1.6zM447.2 1491.2h1.6V1495.2h-1.6zM451.2 1491.2h1.6V1494.8h-1.6zM456.2 1491.2h1.6V1494h-1.6zM460.2 1491.2h1.6V1493.3h-1.6zM485.2 1491.2h1.6V1499.1h-1.6zM489.2 1491.2h1.6V1498.2h-1.6zM493.2 1491.2h1.6V1496.5h-1.6zM498.2 1491.2h1.6V1494.3h-1.6zM502.2 1491.2h1.6V1493h-1.6zM573.2 1491.2h1.6V1493.5h-1.6zM619.2 1491.2h1.6V1500.5h-1.6zM624.2 1491.2h1.6V1498.9h-1.6zM628.2 1491.2h1.6V1497.3h-1.6zM632.2 1491.2h1.6V1495.7h-1.6zM636.2 1491.2h1.6V1495.7h-1.6zM657.2 1491.2h1.6V1498.6h-1.6zM661.2 1491.2h1.6V1497.2h-1.6zM666.2 1491.2h1.6V1496.9h-1.6zM670.2 1491.2h1.6V1496.7h-1.6zM674.2 1491.2h1.6V1495.2h-1.6zM678.2 1491.2h1.6V1494.3h-1.6zM682.2 1491.2h1.6V1492.4h-1.6zM724.2 1491.2h1.6V1492.6h-1.6zM728.2 1491.2h1.6V1491.9h-1.6zM733.2 1491.2h1.6V1491.8h-1.6zM745.2 1491.2h1.6V1491.8h-1.6zM884.2 1491.2h1.6V1511.5h-1.6zM905.2 1491.2h1.6V1517.1h-1.6zM909.2 1491.2h1.6V1513.1h-1.6zM913.2 1491.2h1.6V1508.4h-1.6zM917.2 1491.2h1.6V1505.3h-1.6zM922.2 1491.2h1.6V1503.3h-1.6zM926.2 1491.2h1.6V1498.4h-1.6zM930.2 1491.2h1.6V1494.9h-1.6zM934.2 1491.2h1.6V1493h-1.6zM938.2 1491.2h1.6V1492.2h-1.6zM1077.2 1491.2h1.6V1492.8h-1.6zM1081.2 1491.2h1.6V1492.6h-1.6zM1178.2 1491.2h1.6V1502.2h-1.6zM1182.2 1491.2h1.6V1500.5h-1.6zM1186.2 1491.2h1.6V1499.4h-1.6zM1190.2 1491.2h1.6V1498.6h-1.6zM1194.2 1491.2h1.6V1497.9h-1.6zM1207.2 1491.2h1.6V1497.1h-1.6zM1211.2 1491.2h1.6V1493.8h-1.6zM1345.2 1491.2h1.6V1496.2h-1.6zM1350.2 1491.2h1.6V1495.9h-1.6zM1354.2 1491.2h1.6V1495.1h-1.6zM1358.2 1491.2h1.6V1494.2h-1.6zM1362.2 1491.2h1.6V1493.5h-1.6zM1366.2 1491.2h1.6V1492.7h-1.6zM1371.2 1491.2h1.6V1492.2h-1.6zM1375.2 1491.2h1.6V1491.9h-1.6zM1379.2 1491.2h1.6V1491.8h-1.6zM1446.2 1491.2h1.6V1492h-1.6zM1568.2 1491.2h1.6V1494.4h-1.6zM1593.2 1491.2h1.6V1495.9h-1.6zM1597.2 1491.2h1.6V1495.2h-1.6zM1601.2 1491.2h1.6V1495h-1.6zM1606.2 1491.2h1.6V1494.2h-1.6zM1610.2 1491.2h1.6V1493.8h-1.6zM1614.2 1491.2h1.6V1492.5h-1.6zM1656.2 1491.2h1.6V1492.3h-1.6zM1761.2 1491.2h1.6V1498.6h-1.6zM1765.2 1491.2h1.6V1496.8h-1.6zM1769.2 1491.2h1.6V1495.2h-1.6zM1790.2 1491.2h1.6V1499.3h-1.6zM1795.2 1491.2h1.6V1498.6h-1.6zM1799.2 1491.2h1.6V1496.9h-1.6zM1803.2 1491.2h1.6V1496.2h-1.6zM1811.2 1491.2h1.6V1496.4h-1.6zM1816.2 1491.2h1.6V1496.3h-1.6zM1820.2 1491.2h1.6V1495.8h-1.6zM1824.2 1491.2h1.6V1495.1h-1.6zM1828.2 1491.2h1.6V1493.9h-1.6zM1832.2 1491.2h1.6V1492.4h-1.6zM1836.2 1491.2h1.6V1491.8h-1.6zM1841.2 1491.2h1.6V1491.8h-1.6zM1883.2 1491.2h1.6V1492.1h-1.6zM1887.2 1491.2h1.6V1492.1h-1.6zM1891.2 1491.2h1.6V1491.8h-1.6zM2009.2 1491.2h1.6V1495.1h-1.6zM2013.2 1491.2h1.6V1494h-1.6zM2017.2 1491.2h1.6V1492.7h-1.6zM2021.2 1491.2h1.6V1491.8h-1.6zM2025.2 1491.2h1.6V1491.8h-1.6zM2051.2 1491.2h1.6V1493.1h-1.6zM2055.2 1491.2h1.6V1492.1h-1.6zM2059.2 1491.2h1.6V1492.1h-1.6zM2101.2 1491.2h1.6V1497.4h-1.6zM2105.2 1491.2h1.6V1495.8h-1.6zM2109.2 1491.2h1.6V1494.5h-1.6zM2113.2 1491.2h1.6V1493.1h-1.6z" fill="#ffcdd2"/>
<path d="M15.2 1491.2h1.6V1493.3h-1.6zM28.2 1491.2h1.6V1493h-1.6zM32.2 1491.2h1.6V1493.3h-1.6zM36.2 1491.2h1.6V1493.5h-1.6zM40.2 1491.2h1.6V1493.8h-1.6zM237.2 1491.2h1.6V1492.1h-1.6zM242.2 1491.2h1.6V1493.4h-1.6zM246.2 1491.2h1.6V1494.8h-1.6zM250.2 1491.2h1.6V1495.2h-1.6zM254.2 1491.2h1.6V1495.6h-1.6zM258.2 1491.2h1.6V1495.9h-1.6zM263.2 1491.2h1.6V1496.4h-1.6zM267.2 1491.2h1.6V1496.9h-1.6zM271.2 1491.2h1.6V1497.3h-1.6zM355.2 1491.2h1.6V1492.4h-1.6zM359.2 1491.2h1.6V1493.5h-1.6zM363.2 1491.2h1.6V1494.1h-1.6zM368.2 1491.2h1.6V1494.3h-1.6zM372.2 1491.2h1.6V1494.4h-1.6zM376.2 1491.2h1.6V1494.5h-1.6zM380.2 1491.2h1.6V1495.4h-1.6zM384.2 1491.2h1.6V1496.2h-1.6zM389.2 1491.2h1.6V1496.9h-1.6zM401.2 1491.2h1.6V1497.7h-1.6zM405.2 1491.2h1.6V1499.1h-1.6zM410.2 1491.2h1.6V1500.8h-1.6zM414.2 1491.2h1.6V1502.5h-1.6zM464.2 1491.2h1.6V1493.6h-1.6zM468.2 1491.2h1.6V1494.5h-1.6zM472.2 1491.2h1.6V1495h-1.6zM477.2 1491.2h1.6V1497.1h-1.6zM481.2 1491.2h1.6V1499.3h-1.6zM565.2 1491.2h1.6V1493.3h-1.6zM569.2 1491.2h1.6V1493.9h-1.6zM577.2 1491.2h1.6V1493.7h-1.6zM582.2 1491.2h1.6V1494.3h-1.6zM586.2 1491.2h1.6V1495.3h-1.6zM590.2 1491.2h1.6V1495.8h-1.6zM594.2 1491.2h1.6V1496.7h-1.6zM598.2 1491.2h1.6V1498.3h-1.6zM603.2 1491.2h1.6V1499.5h-1.6zM607.2 1491.2h1.6V1500.2h-1.6zM611.2 1491.2h1.6V1500.9h-1.6zM615.2 1491.2h1.6V1501.6h-1.6zM640.2 1491.2h1.6V1495.9h-1.6zM645.2 1491.2h1.6V1497.1h-1.6zM649.2 1491.2h1.6V1498.7h-1.6zM653.2 1491.2h1.6V1498.7h-1.6zM712.2 1491.2h1.6V1492.2h-1.6zM716.2 1491.2h1.6V1492.6h-1.6zM720.2 1491.2h1.6V1493h-1.6zM737.2 1491.2h1.6V1492h-1.6zM741.2 1491.2h1.6V1492.5h-1.6zM846.2 1491.2h1.6V1491.8h-1.6zM850.2 1491.2h1.6V1494.3h-1.6zM854.2 1491.2h1.6V1498.1h-1.6zM859.2 1491.2h1.6V1502.5h-1.6zM863.2 1491.2h1.6V1506.3h-1.6zM867.2 1491.2h1.6V1508.8h-1.6zM871.2 1491.2h1.6V1510.5h-1.6zM875.2 1491.2h1.6V1511.7h-1.6zM880.2 1491.2h1.6V1512.1h-1.6zM888.2 1491.2h1.6V1512.7h-1.6zM892.2 1491.2h1.6V1514.8h-1.6zM896.2 1491.2h1.6V1517.9h-1.6zM901.2 1491.2h1.6V1521.4h-1.6zM1068.2 1491.2h1.6V1492h-1.6zM1073.2 1491.2h1.6V1492.8h-1.6zM1140.2 1491.2h1.6V1492h-1.6zM1144.2 1491.2h1.6V1493.2h-1.6zM1148.2 1491.2h1.6V1493.9h-1.6zM1152.2 1491.2h1.6V1493.9h-1.6zM1157.2 1491.2h1.6V1494.9h-1.6zM1161.2 1491.2h1.6V1497.8h-1.6zM1165.2 1491.2h1.6V1502h-1.6zM1169.2 1491.2h1.6V1502.3h-1.6zM1173.2 1491.2h1.6V1502.6h-1.6zM1199.2 1491.2h1.6V1498.3h-1.6zM1203.2 1491.2h1.6V1498.6h-1.6zM1333.2 1491.2h1.6V1493.2h-1.6zM1337.2 1491.2h1.6V1494.9h-1.6zM1341.2 1491.2h1.6V1496.6h-1.6zM1417.2 1491.2h1.6V1491.8h-1.6zM1421.2 1491.2h1.6V1492.1h-1.6zM1425.2 1491.2h1.6V1492.7h-1.6zM1429.2 1491.2h1.6V1492.8h-1.6zM1434.2 1491.2h1.6V1492.9h-1.6zM1438.2 1491.2h1.6V1493h-1.6zM1442.2 1491.2h1.6V1493.2h-1.6zM1543.2 1491.2h1.6V1492.2h-1.6zM1547.2 1491.2h1.6V1493.2h-1.6zM1551.2 1491.2h1.6V1493.7h-1.6zM1555.2 1491.2h1.6V1494h-1.6zM1559.2 1491.2h1.6V1494.3h-1.6zM1564.2 1491.2h1.6V1494.6h-1.6zM1572.2 1491.2h1.6V1494.6h-1.6zM1576.2 1491.2h1.6V1495.2h-1.6zM1580.2 1491.2h1.6V1495.8h-1.6zM1585.2 1491.2h1.6V1495.9h-1.6zM1589.2 1491.2h1.6V1496.1h-1.6zM1648.2 1491.2h1.6V1492.6h-1.6zM1652.2 1491.2h1.6V1493h-1.6zM1723.2 1491.2h1.6V1491.8h-1.6zM1727.2 1491.2h1.6V1493.3h-1.6zM1732.2 1491.2h1.6V1494h-1.6zM1736.2 1491.2h1.6V1494.7h-1.6zM1740.2 1491.2h1.6V1495h-1.6zM1744.2 1491.2h1.6V1495.7h-1.6zM1748.2 1491.2h1.6V1497.9h-1.6zM1753.2 1491.2h1.6V1498.9h-1.6zM1757.2 1491.2h1.6V1499.6h-1.6zM1774.2 1491.2h1.6V1495.9h-1.6zM1778.2 1491.2h1.6V1498.3h-1.6zM1782.2 1491.2h1.6V1499h-1.6zM1786.2 1491.2h1.6V1499.3h-1.6zM1807.2 1491.2h1.6V1496.5h-1.6zM1874.2 1491.2h1.6V1491.8h-1.6zM1878.2 1491.2h1.6V1492.1h-1.6zM1895.2 1491.2h1.6V1492h-1.6zM1983.2 1491.2h1.6V1491.8h-1.6zM1988.2 1491.2h1.6V1493.4h-1.6zM1992.2 1491.2h1.6V1494.1h-1.6zM1996.2 1491.2h1.6V1494.8h-1.6zM2000.2 1491.2h1.6V1495.2h-1.6zM2004.2 1491.2h1.6V1495.6h-1.6zM2030.2 1491.2h1.6V1492h-1.6zM2034.2 1491.2h1.6V1493.1h-1.6zM2038.2 1491.2h1.6V1493.8h-1.6zM2042.2 1491.2h1.6V1493.9h-1.6zM2046.2 1491.2h1.6V1494h-1.6zM2063.2 1491.2h1.6V1492.8h-1.6zM2067.2 1491.2h1.6V1494.1h-1.6zM2072.2 1491.2h1.6V1494.8h-1.6zM2076.2 1491.2h1.6V1495.3h-1.6zM2080.2 1491.2h1.6V1495.9h-1.6zM2084.2 1491.2h1.6V1496.8h-1.6zM2088.2 1491.2h1.6V1497.8h-1.6zM2093.2 1491.2h1.6V1498.1h-1.6zM2097.2 1491.2h1.6V1498.7h-1.6z" fill="#ef5350"/>
<path d="M14.8 1491.6C18 1491.9 19.4 1491.6 26.9 1492.7C34.4 1493.8 33.7 1494.6 43 1495.7C52.3 1496.8 51.8 1496.8 61.8 1496.8C71.9 1496.7 71.4 1496.5 80.7 1495.4C90 1494.3 88.2 1493.9 96.8 1492.7C105.4 1491.5 105.1 1492.2 112.9 1490.8C120.8 1489.5 119.6 1488.8 126.4 1487.6C133.2 1486.4 133.5 1488.1 138.5 1486.3C143.5 1484.5 139.8 1485 145.2 1480.9C150.6 1476.7 151.5 1474.7 158.7 1470.7C165.8 1466.7 165.3 1468.1 172.1 1465.8C178.9 1463.5 178.5 1464.7 184.2 1462.1C189.9 1459.4 188.2 1459 193.6 1455.9C199 1452.8 200.1 1452.3 204.4 1450.5C208.7 1448.7 206.2 1451 209.7 1449.2C213.3 1447.4 213.5 1445.6 217.8 1443.8C222.1 1442 220.9 1441.4 225.9 1442.4C230.9 1443.5 230.9 1445.2 236.6 1447.8C242.4 1450.5 241.7 1450.2 247.4 1452.4C253.1 1454.5 251.7 1453.3 258.2 1455.9C264.6 1458.5 265.1 1460.8 271.6 1462.1C278.1 1463.3 276.6 1462.1 282.4 1460.5C288.1 1458.8 288.1 1457.8 293.1 1455.9C298.1 1453.9 296.5 1456.8 301.2 1453.2C305.8 1449.6 306.6 1445.5 310.6 1442.4C314.5 1439.4 313.8 1441.4 316 1441.6C318.1 1441.8 316.9 1443.4 318.7 1443.2C320.4 1443.1 320.5 1441.5 322.7 1441.1C324.8 1440.7 323.9 1442 326.7 1441.9C329.6 1441.8 330.1 1441.6 333.4 1440.6C336.8 1439.5 336.5 1438.2 339.4 1437.9C342.2 1437.5 341.5 1438.7 344.2 1439.2C346.9 1439.7 346 1438.5 349.6 1439.7C353.2 1441 353.3 1442.1 357.6 1443.8C361.9 1445.4 360.7 1444.9 365.7 1445.9C370.7 1447 370.7 1445.9 376.5 1447.8C382.2 1449.8 381.5 1450.5 387.2 1453.2C393 1455.8 393.7 1455.6 398 1457.8C402.3 1459.9 400.5 1458.9 403.4 1461.3C406.2 1463.6 405.5 1463.4 408.7 1466.6C412 1469.9 411.2 1471.4 415.5 1473.4C419.8 1475.4 420.2 1473.8 424.9 1474.2C429.5 1474.5 428.6 1473.8 432.9 1474.7C437.2 1475.6 436 1476.3 441 1477.4C446 1478.5 446 1478.4 451.8 1478.7C457.5 1479.1 456.8 1477.7 462.5 1478.7C468.3 1479.8 467.9 1479.5 473.3 1482.8C478.7 1486 477.7 1488.3 482.7 1490.8C487.7 1493.4 486.7 1492.5 492.1 1492.2C497.5 1491.8 498.6 1490.9 502.9 1489.5C507.2 1488.1 505.4 1489.7 508.2 1486.8C511.1 1483.9 510 1483.4 513.6 1478.7C517.2 1474.1 517.7 1473.8 521.7 1469.3C525.6 1464.9 524.8 1464.9 528.4 1462.1C532 1459.2 531.2 1459.9 535.1 1458.6C539.1 1457.3 539.2 1457 543.2 1457.2C547.1 1457.4 546.7 1457.8 549.9 1459.4C553.1 1461 552.1 1462.1 555.3 1463.1C558.5 1464.1 558.8 1462.2 562 1463.1C565.2 1464.1 563.8 1465.7 567.4 1466.6C571 1467.6 571.2 1465.9 575.5 1466.6C579.8 1467.4 578.5 1467.2 583.5 1469.3C588.5 1471.5 589.3 1471.5 594.3 1474.7C599.3 1477.9 598.1 1478.2 602.4 1481.4C606.7 1484.7 606.1 1483.7 610.4 1486.8C614.7 1489.9 615.9 1491.2 618.5 1493C621 1494.8 616 1493.2 620 1493.5C624 1493.9 627.7 1492.9 633.4 1494.3C639.2 1495.8 637.2 1495.9 641.5 1498.9C645.8 1501.9 645.3 1503 649.6 1505.6C653.9 1508.3 654.1 1507.9 657.6 1508.9C661.2 1509.8 659.4 1508.4 663 1509.1C666.6 1509.8 666.1 1511.2 671.1 1511.5C676.1 1511.9 676.8 1512.4 681.8 1510.5C686.9 1508.5 686 1506.9 689.9 1504.3C693.9 1501.7 692.7 1501.9 696.6 1500.8C700.6 1499.7 700.8 1499 704.7 1500.3C708.6 1501.5 706.8 1503.7 711.4 1505.6C716.1 1507.6 716.4 1507.3 722.2 1507.5C727.9 1507.7 727.2 1506.2 732.9 1506.4C738.7 1506.7 738.7 1508.7 743.7 1508.3C748.7 1508 747.5 1507.1 751.8 1505.1C756.1 1503.1 754.8 1503.2 759.8 1500.8C764.9 1498.4 765.6 1498.3 770.6 1496.2C775.6 1494.1 774.4 1494.6 778.7 1493C783 1491.3 781.7 1494 786.7 1490C791.7 1486.1 792.5 1483 797.5 1478.2C802.5 1473.4 801.2 1474.9 805.5 1472C809.8 1469.1 809.7 1470.7 813.6 1467.4C817.6 1464.2 816.4 1465.5 820.3 1459.9C824.3 1454.3 824.5 1451.7 828.4 1446.5C832.3 1441.2 831.2 1439.2 835.1 1440.3C839.1 1441.4 839.2 1446 843.2 1450.5C847.1 1455 846.3 1452.9 849.9 1457.2C853.5 1461.5 853.4 1460.9 856.6 1466.6C859.9 1472.4 858.4 1471.6 862 1478.7C865.6 1485.9 865.8 1486.4 870.1 1493.5C874.4 1500.7 873.8 1500.3 878.2 1505.6C882.5 1511 881.9 1507.2 886.2 1513.7C890.5 1520.2 890.1 1521.4 894.3 1529.8C898.4 1538.3 897.5 1541.1 901.8 1545.4C906.1 1549.7 906.7 1546 910.4 1546C914.1 1545.9 912.4 1544.9 915.8 1545.2C919.2 1545.4 919 1547.8 923.3 1546.8C927.6 1545.8 927.5 1543 931.9 1541.4C936.4 1539.7 936.4 1541.5 940 1540.6C943.6 1539.7 941.8 1539 945.4 1537.9C949 1536.8 948.4 1539.4 953.4 1536.6C958.5 1533.7 959.2 1532.7 964.2 1527.1C969.2 1521.6 968 1521.2 972.3 1515.8C976.6 1510.5 975.3 1510.8 980.3 1507C985.4 1503.2 986.1 1504.6 991.1 1501.6C996.1 1498.6 994.1 1498.5 999.2 1495.7C1004.2 1492.8 1004.9 1493.9 1009.9 1490.8C1014.9 1487.8 1014.4 1485.9 1018 1484.1C1021.6 1482.3 1020.5 1483.4 1023.4 1484.1C1026.2 1484.8 1025.5 1485.7 1028.7 1486.8C1032 1487.9 1031.2 1488 1035.5 1488.2C1039.8 1488.3 1040.2 1487.9 1044.9 1487.3C1049.5 1486.8 1049 1486.4 1052.9 1486C1056.9 1485.6 1056.1 1485.2 1059.7 1486C1063.2 1486.8 1062.4 1487.5 1066.4 1489C1070.3 1490.5 1070.2 1490.8 1074.5 1491.6C1078.8 1492.5 1077.5 1493.5 1082.5 1492.2C1087.5 1490.9 1088.3 1489.3 1093.3 1486.8C1098.3 1484.3 1097.4 1484.2 1101.3 1482.8C1105.3 1481.3 1104.5 1481.6 1108.1 1481.4C1111.7 1481.3 1110.8 1482.1 1114.8 1482.2C1118.7 1482.4 1118.6 1482.3 1122.9 1482C1127.2 1481.6 1126.6 1480.7 1130.9 1480.9C1135.2 1481.1 1134.7 1481.3 1139 1482.8C1143.3 1484.2 1142.8 1484.8 1147.1 1486.3C1151.4 1487.7 1151.5 1486.2 1155.1 1488.2C1158.7 1490.1 1157.6 1489.6 1160.5 1493.5C1163.4 1497.5 1162.3 1498.6 1165.9 1502.9C1169.5 1507.2 1170.4 1506.9 1173.9 1509.7C1177.5 1512.4 1175.7 1511.7 1179.3 1513.2C1182.9 1514.6 1183.1 1513.8 1187.4 1515C1191.7 1516.3 1191.2 1515.7 1195.5 1517.7C1199.8 1519.7 1199.9 1521.6 1203.5 1522.6C1207.1 1523.5 1205.3 1523.2 1208.9 1521.2C1212.5 1519.2 1212.7 1517.4 1217 1515C1221.3 1512.7 1220 1514.9 1225 1512.4C1230.1 1509.8 1231.8 1508.1 1235.8 1505.6C1239.8 1503.1 1236.7 1504.7 1240 1502.9C1243.3 1501.1 1243.8 1501.1 1248.1 1498.9C1252.4 1496.8 1252.5 1496.1 1256.1 1494.9C1259.7 1493.7 1257.9 1495.2 1261.5 1494.3C1265.1 1493.5 1265.3 1493.1 1269.6 1491.6C1273.9 1490.2 1273.3 1489.4 1277.6 1489C1281.9 1488.5 1281.4 1489.9 1285.7 1490C1290 1490.2 1289.5 1489.8 1293.8 1489.5C1298.1 1489.2 1297.5 1488.8 1301.8 1489C1306.2 1489.1 1305.6 1490 1309.9 1490C1314.2 1490 1313.7 1490 1318 1489C1322.3 1487.9 1322.5 1485.7 1326.1 1486C1329.6 1486.3 1327.1 1487.3 1331.4 1490C1335.7 1492.8 1336.4 1494.1 1342.2 1496.2C1347.9 1498.4 1346.5 1497.7 1352.9 1498.1C1359.4 1498.5 1359.2 1497.8 1366.4 1497.6C1373.6 1497.3 1373.4 1497.7 1379.8 1497C1386.3 1496.3 1384.1 1495.9 1390.6 1494.9C1397 1493.8 1397.6 1493.1 1404 1493C1410.5 1492.8 1409.1 1493.1 1414.8 1494.3C1420.5 1495.6 1420.5 1496.3 1425.5 1497.6C1430.6 1498.8 1428.6 1498.2 1433.6 1498.9C1438.6 1499.6 1438.6 1501 1444.4 1500.3C1450.1 1499.5 1450.1 1498.7 1455.1 1496.2C1460.1 1493.7 1458.9 1494.1 1463.2 1490.8C1467.5 1487.6 1467 1487.3 1471.3 1484.1C1475.6 1480.9 1475 1480.9 1479.3 1478.7C1483.6 1476.6 1482.4 1477.3 1487.4 1476.1C1492.4 1474.8 1492.4 1474.5 1498.2 1473.9C1503.9 1473.3 1504.6 1474.4 1508.9 1473.9C1513.2 1473.4 1510.7 1473 1514.3 1472C1517.9 1471 1518.8 1470.7 1522.4 1470.1C1525.9 1469.6 1524.9 1469.5 1527.7 1469.9C1530.6 1470.2 1529.5 1470.7 1533.1 1471.5C1536.7 1472.3 1536.9 1471.6 1541.2 1472.8C1545.5 1474 1544.9 1474.6 1549.2 1476.1C1553.5 1477.5 1553.7 1477.1 1557.3 1478.2C1560.9 1479.3 1559.1 1479 1562.7 1480.1C1566.3 1481.2 1565.7 1480.3 1570.8 1482.2C1575.8 1484.2 1575.8 1484.9 1581.5 1487.3C1587.2 1489.8 1586.5 1489.9 1592.3 1491.4C1598 1492.9 1598 1492.6 1603 1493C1608 1493.4 1606.1 1493.8 1611.1 1493C1616.1 1492.2 1616.1 1491.3 1621.8 1490C1627.6 1488.7 1627.6 1488.9 1632.6 1488.2C1637.6 1487.4 1636.4 1486.6 1640.7 1487.3C1645 1488.1 1644.8 1489.7 1648.7 1490.8C1652.7 1492 1651.9 1492.4 1655.5 1491.6C1659 1490.9 1659 1490 1662.2 1488.2C1665.4 1486.3 1664.3 1486.4 1667.6 1484.7C1670.8 1482.9 1670.7 1484.8 1674.3 1481.4C1677.9 1478.1 1677.4 1476 1681 1472C1684.6 1468.1 1683.8 1469.1 1687.7 1466.6C1691.7 1464.2 1691.9 1463.4 1695.8 1462.9C1699.7 1462.3 1698.6 1464.1 1702.5 1464.5C1706.5 1464.9 1706.3 1464.3 1710.6 1464.5C1714.9 1464.7 1714.4 1464 1718.7 1465.3C1723 1466.6 1722.4 1467.5 1726.7 1469.3C1731 1471.1 1730.1 1470.4 1734.8 1472C1739.5 1473.7 1739.9 1473 1744.2 1475.5C1748.5 1478 1747 1478.4 1750.9 1481.4C1754.9 1484.4 1754.7 1485.5 1759 1486.8C1763.3 1488.1 1763.5 1486.5 1767.1 1486.3C1770.6 1486.1 1769.6 1484.8 1772.4 1486C1775.3 1487.2 1774.2 1488.5 1777.8 1490.8C1781.4 1493.2 1781.6 1492.9 1785.9 1494.9C1790.2 1496.8 1789.6 1497.2 1793.9 1498.1C1798.3 1499 1797.7 1497.4 1802 1498.4C1806.3 1499.3 1805.8 1500.2 1810.1 1501.6C1814.4 1503 1813.8 1502.9 1818.2 1503.5C1822.5 1504.1 1821.9 1504.2 1826.2 1503.7C1830.5 1503.2 1830 1502.4 1834.3 1501.6C1838.6 1500.8 1838.1 1501.5 1842.4 1500.8C1846.7 1500.1 1846.1 1500.6 1850.4 1498.9C1854.7 1497.2 1855.9 1495.2 1858.5 1494.3C1861 1493.4 1857.1 1494.8 1860 1495.5C1862.9 1496.3 1864.3 1496 1869.2 1497.1C1874.1 1498.1 1873.5 1498.9 1878.4 1499.5C1883.2 1500.2 1882.6 1499.8 1887.5 1499.5C1892.4 1499.3 1891.8 1500.1 1896.7 1498.6C1901.6 1497.1 1901 1496.9 1905.9 1494C1910.8 1491.1 1910.2 1492 1915.1 1487.9C1920 1483.8 1920.2 1484 1924.2 1478.7C1928.3 1473.4 1927.1 1472.5 1930.4 1468C1933.6 1463.5 1933.2 1466 1936.5 1461.9C1939.7 1457.8 1939.7 1456.5 1942.6 1452.7C1945.4 1448.9 1944.7 1448.7 1947.2 1447.5C1949.6 1446.3 1948.9 1447.1 1951.8 1448.1C1954.6 1449.1 1954.6 1449.8 1957.9 1451.2C1961.1 1452.6 1960.7 1453.2 1964 1453.3C1967.3 1453.5 1965.6 1452 1970.1 1451.8C1974.6 1451.6 1975.9 1451.1 1980.8 1452.7C1985.7 1454.3 1984 1455.5 1988.5 1457.9C1993 1460.4 1992.8 1459.8 1997.6 1461.9C2002.5 1463.9 2001.9 1464.9 2006.8 1465.6C2011.7 1466.2 2011.9 1465.1 2016 1464.3C2020.1 1463.6 2018 1462.8 2022.1 1462.8C2026.2 1462.8 2027.2 1463.2 2031.3 1464.3C2035.4 1465.5 2033.3 1465.9 2037.4 1467.1C2041.5 1468.3 2041.7 1468.7 2046.6 1468.9C2051.5 1469.2 2051.7 1468 2055.8 1468C2059.8 1468 2057.8 1467.5 2061.9 1468.9C2066 1470.3 2066.2 1471 2071.1 1473.2C2076 1475.4 2075.3 1474.5 2080.2 1477.2C2085.1 1479.9 2084.5 1480.4 2089.4 1483.3C2094.3 1486.1 2093.7 1486.9 2098.6 1487.9C2103.5 1488.9 2103.3 1487.8 2107.8 1487C2112.3 1486.1 2111.3 1487 2115.4 1484.8C2119.5 1482.6 2119.4 1480.3 2123.1 1478.7C2126.7 1477.1 2126.3 1479.3 2129.2 1478.7C2132 1478.1 2129.7 1477.4 2133.8 1476.6C2137.8 1475.7 2139.2 1475.5 2144.5 1475.6C2149.8 1475.8 2149.2 1476.8 2153.6 1477.2C2158.1 1477.6 2157.2 1480 2161.3 1477.2C2165.4 1474.3 2165.3 1470.3 2168.9 1466.5C2172.6 1462.6 2171.8 1464.4 2175.1 1462.8C2178.3 1461.2 2177.1 1464.9 2181.2 1460.4C2185.3 1455.8 2186.7 1450.7 2190.4 1445.7C2194 1440.6 2192.5 1442 2194.9 1441.4C2197.4 1440.8 2196.3 1445 2199.5 1443.5C2202.8 1442.1 2202.7 1441.6 2207.2 1435.9C2211.7 1430.2 2211.1 1429.9 2216.4 1422.1C2221.7 1414.4 2222.6 1411.7 2227.1 1406.8C2231.5 1401.9 2229.9 1404.4 2233.2 1403.8C2236.4 1403.1 2235.9 1402.5 2239.3 1404.4C2242.7 1406.3 2244.2 1409.1 2246 1410.8" fill="none" stroke="#2196f3" stroke-width="2.1" stroke-linejoin="round"/>
<path d="M14.8 1489.5C20.6 1490.2 19.3 1490 32.3 1491.6C45.3 1493.3 39.4 1493 53.8 1494.3C68.1 1495.7 61.8 1495.5 75.3 1495.7C88.7 1495.9 81.6 1495.8 94.1 1494.9C106.7 1494 101.3 1494.5 112.9 1493C124.6 1491.5 119.2 1491.9 129.1 1490.3C138.9 1488.7 134.5 1490.7 142.5 1488.2C150.6 1485.6 145.2 1487 153.3 1482.8C161.3 1478.6 155.1 1480.9 166.7 1475.5C178.4 1470.1 175.7 1472.3 188.2 1466.6C200.8 1461 193.6 1463.9 204.4 1458.6C215.1 1453.2 210.6 1454.3 220.5 1450.5C230.4 1446.7 225 1447.9 233.9 1447.3C242.9 1446.6 239.3 1447.3 247.4 1448.6C255.5 1450 250.1 1448.9 258.2 1451.3C266.2 1453.7 262.6 1453.6 271.6 1455.9C280.6 1458.1 276.1 1458 285 1458C294 1458 289.5 1458.4 298.5 1455.9C307.5 1453.4 303 1453.8 311.9 1450.5C320.9 1447.2 316.4 1448.6 325.4 1445.9C334.3 1443.2 330.8 1444.1 338.8 1442.4C346.9 1440.8 341.5 1441.1 349.6 1441.1C357.6 1441.1 354.1 1441.3 363 1442.4C372 1443.6 367.5 1442.5 376.5 1444.6C385.4 1446.6 381 1445.3 389.9 1448.6C398.9 1451.9 394.4 1449.9 403.4 1454.5C412.3 1459.2 407.8 1457.9 416.8 1462.6C425.8 1467.3 421.3 1464.9 430.3 1468.5C439.2 1472.1 434.7 1470.9 443.7 1473.4C452.7 1475.9 448.2 1474.4 457.1 1476.1C466.1 1477.7 461.6 1476 470.6 1478.2C479.6 1480.4 475.1 1479.7 484 1482.8C493 1485.8 489.4 1485.6 497.5 1487.3C505.5 1489.1 501.1 1489.7 508.2 1488.2C515.4 1486.6 511.8 1487 519 1482.8C526.2 1478.6 522.6 1480.4 529.7 1475.5C536.9 1470.6 533.8 1471.8 540.5 1468C547.2 1464.1 542.7 1465.6 549.9 1463.9C557.1 1462.3 553.5 1463 562 1463.1C570.5 1463.3 567.4 1463.3 575.5 1464.5C583.5 1465.7 579 1464.6 586.2 1466.6C593.4 1468.7 588.9 1467.1 597 1470.7C605 1474.3 603.2 1473.5 610.4 1477.4C617.6 1481.2 615.3 1480 618.5 1482.2C621.7 1484.5 615 1481.5 620 1484.1C625 1486.7 624.5 1485.7 633.4 1490C642.4 1494.3 637.9 1492.9 646.9 1497C655.9 1501.1 651.4 1499.1 660.3 1502.4C669.3 1505.7 665.7 1505 673.8 1507C681.8 1508.9 677.4 1508.6 684.5 1508.3C691.7 1508.1 688.1 1507.5 695.3 1506.2C702.5 1504.8 697.1 1504.5 706.1 1504.3C715 1504.1 712.3 1504.9 722.2 1505.6C732 1506.3 726.7 1506 735.6 1506.4C744.6 1506.9 740.1 1507.7 749.1 1507C758 1506.3 753.6 1506.7 762.5 1504.3C771.5 1501.9 767 1502.9 776 1499.7C784.9 1496.6 780.4 1499.4 789.4 1494.9C798.4 1490.4 794.8 1491.6 802.9 1486.3C810.9 1480.9 806.4 1484.4 813.6 1478.7C820.8 1473.1 818.1 1475.6 824.4 1469.3C830.6 1463.1 827.5 1464.6 832.4 1459.9C837.4 1455.3 834.2 1457.3 839.2 1455.3C844.1 1453.4 841.4 1452.9 847.2 1454C853.1 1455.1 850.8 1453.9 856.6 1458.6C862.5 1463.2 858.4 1460.4 864.7 1468C871 1475.6 868.3 1472.9 875.5 1481.4C882.6 1489.9 879.9 1485.5 886.2 1493.5C892.5 1501.6 888 1497.1 894.3 1505.6C900.6 1514.1 897.9 1511 905 1519.1C912.2 1527.1 908.6 1523.7 915.8 1529.8C923 1535.9 919.4 1534 926.6 1537.4C933.7 1540.7 930.1 1539.2 937.3 1539.8C944.5 1540.4 940.9 1540.1 948.1 1539.2C955.2 1538.4 952.5 1539.2 958.8 1537.4C965.1 1535.6 960.6 1537.7 966.9 1533.9C973.2 1530 970.5 1531.6 977.6 1525.8C984.8 1520 981.2 1522.2 988.4 1516.4C995.6 1510.6 992 1513.7 999.2 1508.3C1006.3 1502.9 1002.7 1505.2 1009.9 1500.3C1017.1 1495.3 1014.4 1496.5 1020.7 1493.5C1026.9 1490.6 1022.5 1492.5 1028.7 1491.4C1035 1490.2 1032.3 1490.8 1039.5 1490C1046.7 1489.2 1043.1 1489.6 1050.3 1489C1057.4 1488.3 1053.8 1488 1061 1488.2C1068.2 1488.3 1064.6 1488.6 1071.8 1489.5C1078.9 1490.4 1075.4 1490.8 1082.5 1490.8C1089.7 1490.8 1086.1 1491 1093.3 1489.5C1100.4 1488 1096 1488.1 1104 1486.3C1112.1 1484.5 1108.5 1485.3 1117.5 1484.1C1126.4 1483 1122.9 1483.2 1130.9 1482.8C1139 1482.3 1134.5 1482.1 1141.7 1482.8C1148.9 1483.4 1146.2 1482.9 1152.4 1484.7C1158.7 1486.4 1154.2 1484.3 1160.5 1488.2C1166.8 1492 1164.1 1490.8 1171.3 1496.2C1178.4 1501.6 1174.8 1499.8 1182 1504.3C1189.2 1508.8 1185.6 1506.1 1192.8 1509.7C1199.9 1513.2 1196.4 1512.8 1203.5 1515C1210.7 1517.3 1207.1 1516.2 1214.3 1516.4C1221.5 1516.6 1217.9 1516.9 1225 1515.6C1232.2 1514.2 1230.8 1514.1 1235.8 1512.4C1240.8 1510.6 1234.1 1513.2 1240 1510.5C1245.9 1507.8 1244.5 1508.1 1253.4 1504.3C1262.4 1500.4 1257.9 1502.2 1266.9 1498.9C1275.9 1495.6 1271.4 1496.8 1280.3 1494.3C1289.3 1491.9 1284.8 1493 1293.8 1491.6C1302.7 1490.3 1298.3 1491 1307.2 1490.3C1316.2 1489.6 1312.6 1489.9 1320.7 1489.5C1328.7 1489 1324.3 1488.5 1331.4 1489C1338.6 1489.4 1334.1 1489 1342.2 1490.8C1350.3 1492.6 1346.7 1492.5 1355.6 1494.3C1364.6 1496.1 1360.1 1495.4 1369.1 1496.2C1378 1497 1373.6 1497 1382.5 1496.8C1391.5 1496.5 1387 1496.2 1396 1495.4C1404.9 1494.6 1400.4 1494.2 1409.4 1494.3C1418.4 1494.4 1413.9 1494.6 1422.9 1495.7C1431.8 1496.8 1428.2 1496.7 1436.3 1497.6C1444.4 1498.5 1439.9 1498.5 1447.1 1498.4C1454.2 1498.2 1450.6 1498.6 1457.8 1497C1465 1495.4 1461.4 1496.5 1468.6 1493.5C1475.7 1490.6 1472.2 1491.7 1479.3 1488.2C1486.5 1484.6 1482.9 1485.9 1490.1 1482.8C1497.3 1479.6 1493.7 1480.8 1500.8 1478.7C1508 1476.7 1504.4 1478.1 1511.6 1476.6C1518.8 1475.1 1515.2 1475.4 1522.4 1474.2C1529.5 1472.9 1525.9 1473.3 1533.1 1472.8C1540.3 1472.4 1536.7 1472.2 1543.9 1472.8C1551 1473.5 1547.5 1473.2 1554.6 1474.7C1561.8 1476.2 1558.2 1475.3 1565.4 1477.4C1572.5 1479.5 1569 1478.5 1576.1 1480.9C1583.3 1483.3 1579.7 1482.2 1586.9 1484.7C1594.1 1487.1 1590.5 1486.3 1597.6 1488.2C1604.8 1490 1601.2 1489.4 1608.4 1490.3C1615.6 1491.2 1612 1490.9 1619.2 1490.8C1626.3 1490.8 1622.7 1490.7 1629.9 1490C1637.1 1489.4 1633.5 1489.1 1640.7 1489C1647.8 1488.8 1644.3 1489.1 1651.4 1489.5C1658.6 1489.9 1655 1490.8 1662.2 1490C1669.4 1489.3 1665.8 1490.2 1672.9 1487.3C1680.1 1484.5 1676.5 1485.9 1683.7 1481.4C1690.9 1476.9 1687.3 1477.9 1694.5 1473.9C1701.6 1469.9 1698 1471.5 1705.2 1469.3C1712.4 1467.2 1708.8 1468.1 1716 1467.4C1723.1 1466.8 1719.6 1466.8 1726.7 1467.4C1733.9 1468.1 1730.3 1467.5 1737.5 1469.3C1744.6 1471.1 1741.1 1469.9 1748.2 1472.8C1755.4 1475.8 1751.8 1475.2 1759 1478.2C1766.2 1481.2 1762.6 1479.8 1769.7 1482C1776.9 1484.1 1773.3 1482.3 1780.5 1484.7C1787.7 1487 1784.1 1486 1791.3 1489C1798.4 1491.9 1794.8 1490.8 1802 1493.5C1809.2 1496.2 1805.6 1495 1812.8 1497C1819.9 1499.1 1816.4 1498.5 1823.5 1499.7C1830.7 1501 1827.1 1500.4 1834.3 1500.8C1841.5 1501.1 1837.9 1501.2 1845 1500.8C1852.2 1500.3 1850.8 1500.2 1855.8 1499.4C1860.8 1498.7 1853.5 1498.9 1860 1498.6C1866.5 1498.3 1865.1 1498.6 1875.3 1498.6C1885.5 1498.6 1881.4 1499.1 1890.6 1498.6C1899.8 1498.1 1894.7 1499.1 1902.8 1497.1C1911 1495 1906.9 1496.6 1915.1 1492.5C1923.2 1488.4 1919.1 1491.5 1927.3 1484.8C1935.5 1478.2 1932.4 1479.7 1939.5 1472.6C1946.7 1465.5 1942.6 1468 1948.7 1463.4C1954.8 1458.8 1950.7 1461.6 1957.9 1458.8C1965 1456.1 1962 1456.7 1970.1 1455.2C1978.3 1453.6 1974.2 1453.5 1982.4 1454.2C1990.5 1454.9 1986.4 1455.1 1994.6 1457.3C2002.7 1459.5 1998.7 1459.2 2006.8 1461C2015 1462.7 2010.9 1461.7 2019.1 1462.5C2027.2 1463.3 2023.1 1462.4 2031.3 1463.4C2039.5 1464.4 2035.4 1464.3 2043.5 1465.6C2051.7 1466.8 2047.6 1466 2055.8 1467.1C2063.9 1468.2 2059.8 1467.1 2068 1468.9C2076.2 1470.8 2072.1 1469.5 2080.2 1472.6C2088.4 1475.6 2084.3 1474.8 2092.5 1478.1C2100.6 1481.4 2097.6 1480.6 2104.7 1482.4C2111.8 1484.1 2106.7 1483.5 2113.9 1483.3C2121 1483.1 2118 1483 2126.1 1481.8C2134.3 1480.5 2130.2 1480.6 2138.4 1479.6C2146.5 1478.6 2142.9 1479.2 2150.6 1478.7C2158.2 1478.2 2154.2 1479.6 2161.3 1478.1C2168.4 1476.6 2164.4 1477.5 2172 1474.1C2179.7 1470.8 2176.1 1473.4 2184.2 1468C2192.4 1462.6 2188.3 1464.3 2196.5 1457.9C2204.6 1451.5 2200.6 1456.1 2208.7 1448.7C2216.9 1441.4 2212.8 1444.8 2220.9 1435.9C2229.1 1427 2226.6 1428.7 2233.2 1422.1C2239.8 1415.5 2236.5 1418.8 2240.8 1416C2245.1 1413.2 2244.3 1414.6 2246 1413.9" fill="none" stroke="#ff6d00" stroke-width="2.1" stroke-linejoin="round"/>
</g>
<path d="M13.0 87.0H2575.0V1610.0H13.0zM2475.0 87.0V1610.0M13.0 1203.0H2575.0M13.0 1394.0H2575.0M13.0 1557.0H2575.0" stroke="#4c4c4c" stroke-width="2" fill="none"/>
<path d="M2476.0 1155h7.8" stroke="#555" stroke-width="2"/>
<text x="2492.8" y="1162.7" font-size="21.8" fill="#555" stroke="#555" stroke-width="0.3" textLength="64.9" lengthAdjust="spacingAndGlyphs">200.00</text>
<path d="M2476.0 1065h7.8" stroke="#555" stroke-width="2"/>
<text x="2492.8" y="1073.4" font-size="21.8" fill="#555" stroke="#555" stroke-width="0.3" textLength="64.9" lengthAdjust="spacingAndGlyphs">240.00</text>
<path d="M2476.0 976h7.8" stroke="#555" stroke-width="2"/>
<text x="2492.8" y="984.1" font-size="21.8" fill="#555" stroke="#555" stroke-width="0.3" textLength="64.9" lengthAdjust="spacingAndGlyphs">280.00</text>
<path d="M2476.0 887h7.8" stroke="#555" stroke-width="2"/>
<text x="2492.8" y="894.8" font-size="21.8" fill="#555" stroke="#555" stroke-width="0.3" textLength="64.9" lengthAdjust="spacingAndGlyphs">320.00</text>
<path d="M2476.0 798h7.8" stroke="#555" stroke-width="2"/>
<text x="2492.8" y="805.6" font-size="21.8" fill="#555" stroke="#555" stroke-width="0.3" textLength="64.9" lengthAdjust="spacingAndGlyphs">360.00</text>
<path d="M2476.0 708h7.8" stroke="#555" stroke-width="2"/>
<text x="2492.8" y="716.3" font-size="21.8" fill="#555" stroke="#555" stroke-width="0.3" textLength="64.9" lengthAdjust="spacingAndGlyphs">400.00</text>
<path d="M2476.0 619h7.8" stroke="#555" stroke-width="2"/>
<text x="2492.8" y="627" font-size="21.8" fill="#555" stroke="#555" stroke-width="0.3" textLength="64.9" lengthAdjust="spacingAndGlyphs">440.00</text>
<path d="M2476.0 530h7.8" stroke="#555" stroke-width="2"/>
<text x="2492.8" y="537.7" font-size="21.8" fill="#555" stroke="#555" stroke-width="0.3" textLength="64.9" lengthAdjust="spacingAndGlyphs">480.00</text>
<path d="M2476.0 440h7.8" stroke="#555" stroke-width="2"/>
<text x="2492.8" y="448.4" font-size="21.8" fill="#555" stroke="#555" stroke-width="0.3" textLength="64.9" lengthAdjust="spacingAndGlyphs">520.00</text>
<path d="M2476.0 351h7.8" stroke="#555" stroke-width="2"/>
<text x="2492.8" y="359.2" font-size="21.8" fill="#555" stroke="#555" stroke-width="0.3" textLength="64.9" lengthAdjust="spacingAndGlyphs">560.00</text>
<path d="M2476.0 262h7.8" stroke="#555" stroke-width="2"/>
<text x="2492.8" y="269.9" font-size="21.8" fill="#555" stroke="#555" stroke-width="0.3" textLength="64.9" lengthAdjust="spacingAndGlyphs">600.00</text>
<path d="M2476.0 173h7.8" stroke="#555" stroke-width="2"/>
<text x="2492.8" y="180.6" font-size="21.8" fill="#555" stroke="#555" stroke-width="0.3" textLength="64.9" lengthAdjust="spacingAndGlyphs">640.00</text>
<path d="M2476.0 1247h7.8" stroke="#555" stroke-width="2"/>
<text x="2492.8" y="1254.7" font-size="21.8" fill="#555" stroke="#555" stroke-width="0.3" textLength="53.5" lengthAdjust="spacingAndGlyphs">80.00</text>
<path d="M2476.0 1314h7.8" stroke="#555" stroke-width="2"/>
<text x="2492.8" y="1322.1" font-size="21.8" fill="#555" stroke="#555" stroke-width="0.3" textLength="53.5" lengthAdjust="spacingAndGlyphs">40.00</text>
<path d="M2476.0 1382h7.8" stroke="#555" stroke-width="2"/>
<text x="2492.8" y="1389.6" font-size="21.8" fill="#555" stroke="#555" stroke-width="0.3" textLength="42.1" lengthAdjust="spacingAndGlyphs">0.00</text>
<path d="M2476.0 1435h7.8" stroke="#555" stroke-width="2"/>
<text x="2492.8" y="1442.6" font-size="21.8" fill="#555" stroke="#555" stroke-width="0.3" textLength="53.5" lengthAdjust="spacingAndGlyphs">20.00</text>
<path d="M2476.0 1491h7.8" stroke="#555" stroke-width="2"/>
<text x="2492.8" y="1499.2" font-size="21.8" fill="#555" stroke="#555" stroke-width="0.3" textLength="42.1" lengthAdjust="spacingAndGlyphs">0.00</text>
<path d="M2476.0 1548h7.8" stroke="#555" stroke-width="2"/>
<text x="2492.8" y="1556" font-size="21.8" fill="#555" stroke="#555" stroke-width="0.3" textLength="64.9" lengthAdjust="spacingAndGlyphs">−20.00</text>
<rect x="2474.0" y="273.9" width="100.0" height="34" fill="#eb4d5c"/>
<path d="M2474.0 291h8" stroke="#fff" stroke-width="2"/>
<text x="2492.8" y="298.9" font-size="21.8" fill="#fff" stroke="#fff" stroke-width="0.3" textLength="64.9" lengthAdjust="spacingAndGlyphs">587.02</text>
<rect x="2474.0" y="691.3" width="100.0" height="34" fill="#9900ff"/>
<path d="M2474.0 708h8" stroke="#fff" stroke-width="2"/>
<text x="2492.8" y="716.3" font-size="21.8" fill="#fff" stroke="#fff" stroke-width="0.3" textLength="64.9" lengthAdjust="spacingAndGlyphs">400.00</text>
<rect x="2474.0" y="723.7" width="100.0" height="34" fill="#ff0000"/>
<path d="M2474.0 741h8" stroke="#fff" stroke-width="2"/>
<text x="2492.8" y="748.7" font-size="21.8" fill="#fff" stroke="#fff" stroke-width="0.3" textLength="64.9" lengthAdjust="spacingAndGlyphs">385.48</text>
<rect x="2474.0" y="758.7" width="100.0" height="34" fill="#4a86e8"/>
<path d="M2474.0 776h8" stroke="#fff" stroke-width="2"/>
<text x="2492.8" y="783.7" font-size="21.8" fill="#fff" stroke="#fff" stroke-width="0.3" textLength="64.9" lengthAdjust="spacingAndGlyphs">380.00</text>
<rect x="2474.0" y="792.8" width="100.0" height="34" fill="#6aa84f"/>
<path d="M2474.0 810h8" stroke="#fff" stroke-width="2"/>
<text x="2492.8" y="817.8" font-size="21.8" fill="#fff" stroke="#fff" stroke-width="0.3" textLength="64.9" lengthAdjust="spacingAndGlyphs">360.00</text>
<rect x="2474.0" y="869.8" width="100.0" height="34" fill="#0000ff"/>
<path d="M2474.0 887h8" stroke="#fff" stroke-width="2"/>
<text x="2492.8" y="894.8" font-size="21.8" fill="#fff" stroke="#fff" stroke-width="0.3" textLength="64.9" lengthAdjust="spacingAndGlyphs">320.00</text>
<rect x="2474.0" y="1032.8" width="100.0" height="34" fill="#ff00ff"/>
<path d="M2474.0 1050h8" stroke="#fff" stroke-width="2"/>
<text x="2492.8" y="1057.8" font-size="21.8" fill="#fff" stroke="#fff" stroke-width="0.3" textLength="64.9" lengthAdjust="spacingAndGlyphs">247.00</text>
<rect x="2495" y="100.9" width="58" height="36" rx="8" ry="8" fill="#fff" stroke="#cfd2df" stroke-width="1.9"/>
<text x="2505.4" y="126.9" font-size="23.2" fill="#4a4a4a" stroke="#4a4a4a" stroke-width="0.4" textLength="37" lengthAdjust="spacingAndGlyphs">USD</text>
<path d="M129 1557.0v7.5" stroke="#4c4c4c" stroke-width="2"/>
<text x="118.2" y="1593.9" font-size="21.8" fill="#555" stroke="#555" stroke-width="0.3" textLength="21.5" lengthAdjust="spacingAndGlyphs">22</text>
<path d="M297 1557.0v7.5" stroke="#4c4c4c" stroke-width="2"/>
<text x="278.9" y="1593.9" font-size="21.8" fill="#555" font-weight="bold" textLength="36.5" lengthAdjust="spacingAndGlyphs">Aug</text>
<path d="M448 1557.0v7.5" stroke="#4c4c4c" stroke-width="2"/>
<text x="437.2" y="1593.9" font-size="21.8" fill="#555" stroke="#555" stroke-width="0.3" textLength="21.5" lengthAdjust="spacingAndGlyphs">10</text>
<path d="M599 1557.0v7.5" stroke="#4c4c4c" stroke-width="2"/>
<text x="588.1" y="1593.9" font-size="21.8" fill="#555" stroke="#555" stroke-width="0.3" textLength="21.5" lengthAdjust="spacingAndGlyphs">19</text>
<path d="M817 1557.0v7.5" stroke="#4c4c4c" stroke-width="2"/>
<text x="798.8" y="1593.9" font-size="21.8" fill="#555" font-weight="bold" textLength="36" lengthAdjust="spacingAndGlyphs">Sep</text>
<path d="M1035 1557.0v7.5" stroke="#4c4c4c" stroke-width="2"/>
<text x="1024.2" y="1593.9" font-size="21.8" fill="#555" stroke="#555" stroke-width="0.3" textLength="21.5" lengthAdjust="spacingAndGlyphs">14</text>
<path d="M1321 1557.0v7.5" stroke="#4c4c4c" stroke-width="2"/>
<text x="1304.2" y="1593.9" font-size="21.8" fill="#555" font-weight="bold" textLength="34" lengthAdjust="spacingAndGlyphs">Oct</text>
<path d="M1506 1557.0v7.5" stroke="#4c4c4c" stroke-width="2"/>
<text x="1495.8" y="1593.9" font-size="21.8" fill="#555" stroke="#555" stroke-width="0.3" textLength="21.5" lengthAdjust="spacingAndGlyphs">12</text>
<path d="M1657 1557.0v7.5" stroke="#4c4c4c" stroke-width="2"/>
<text x="1646.5" y="1593.9" font-size="21.8" fill="#555" stroke="#555" stroke-width="0.3" textLength="21.5" lengthAdjust="spacingAndGlyphs">21</text>
<path d="M1842 1557.0v7.5" stroke="#4c4c4c" stroke-width="2"/>
<text x="1823.2" y="1593.9" font-size="21.8" fill="#555" font-weight="bold" textLength="38" lengthAdjust="spacingAndGlyphs">Nov</text>
<path d="M2093 1557.0v7.5" stroke="#4c4c4c" stroke-width="2"/>
<text x="2082.3" y="1593.9" font-size="21.8" fill="#555" stroke="#555" stroke-width="0.3" textLength="21.5" lengthAdjust="spacingAndGlyphs">16</text>
<path d="M2345 1557.0v7.5" stroke="#4c4c4c" stroke-width="2"/>
<text x="2326.3" y="1593.9" font-size="21.8" fill="#555" font-weight="bold" textLength="37" lengthAdjust="spacingAndGlyphs">Dec</text>
<text x="12.5" y="32.8" font-size="25" fill="#131722" font-weight="bold" textLength="67" lengthAdjust="spacingAndGlyphs" xml:space="preserve">FilFox</text>
<text x="86.5" y="32.8" font-size="25" fill="#131722" textLength="741.5" lengthAdjust="spacingAndGlyphs" xml:space="preserve">published on TradingView.com, November 25, 2020 07:16:17 +03</text>
<text x="12.5" y="66.9" font-size="25" fill="#131722" font-weight="bold" textLength="276.5" lengthAdjust="spacingAndGlyphs" xml:space="preserve">BITSTAMP:ETHUSD, 360</text>
<text x="300.5" y="66.9" font-size="25" fill="#131722" textLength="75.2" lengthAdjust="spacingAndGlyphs" xml:space="preserve">587.02</text>
<path d="M383.3 49.8h19.8l-9.9 18.6z" fill="#ef5350"/>
<text x="411.7" y="66.9" font-size="25" fill="#131722" textLength="180.6" lengthAdjust="spacingAndGlyphs" xml:space="preserve">−18.70 (−3.09%)</text>
<text x="601.5" y="66.9" font-size="25" fill="#131722" font-weight="bold" textLength="24.5" lengthAdjust="spacingAndGlyphs" xml:space="preserve">O:</text>
<text x="631" y="66.9" font-size="25" fill="#ef5350" textLength="75" lengthAdjust="spacingAndGlyphs" xml:space="preserve">605.17</text>
<text x="715.5" y="66.9" font-size="25" fill="#131722" font-weight="bold" textLength="23.5" lengthAdjust="spacingAndGlyphs" xml:space="preserve">H:</text>
<text x="744" y="66.9" font-size="25" fill="#ef5350" textLength="75" lengthAdjust="spacingAndGlyphs" xml:space="preserve">606.61</text>
<text x="828.6" y="66.9" font-size="25" fill="#131722" font-weight="bold" textLength="18" lengthAdjust="spacingAndGlyphs" xml:space="preserve">L:</text>
<text x="851" y="66.9" font-size="25" fill="#ef5350" textLength="75.4" lengthAdjust="spacingAndGlyphs" xml:space="preserve">580.84</text>
<text x="935" y="66.9" font-size="25" fill="#131722" font-weight="bold" textLength="21.5" lengthAdjust="spacingAndGlyphs" xml:space="preserve">C:</text>
<text x="961.3" y="66.9" font-size="25" fill="#ef5350" textLength="74.7" lengthAdjust="spacingAndGlyphs" xml:space="preserve">587.02</text>
<g transform="translate(0,1615) scale(0.10924)"><path d="M150 438 C 120 438 108 400 108 370 C 108 320 150 280 205 272 C 210 210 255 163 315 163 C 370 163 410 200 425 250 C 445 240 470 238 490 245 C 525 255 540 290 538 320 C 570 335 588 365 588 395 C 588 420 570 438 540 438 Z" fill="#2196f3"/><path d="M118 412 L290 270 L405 375 L530 258" stroke="#fff" stroke-width="15" fill="none" stroke-linejoin="round"/><circle cx="290" cy="270" r="33" fill="#fff"/><circle cx="405" cy="375" r="34" fill="#fff"/></g>
<text x="68.3" y="1656" font-size="25.6" fill="#131722" textLength="140.8" lengthAdjust="spacingAndGlyphs">TradingView</text>
</g>
</svg></body></html>
